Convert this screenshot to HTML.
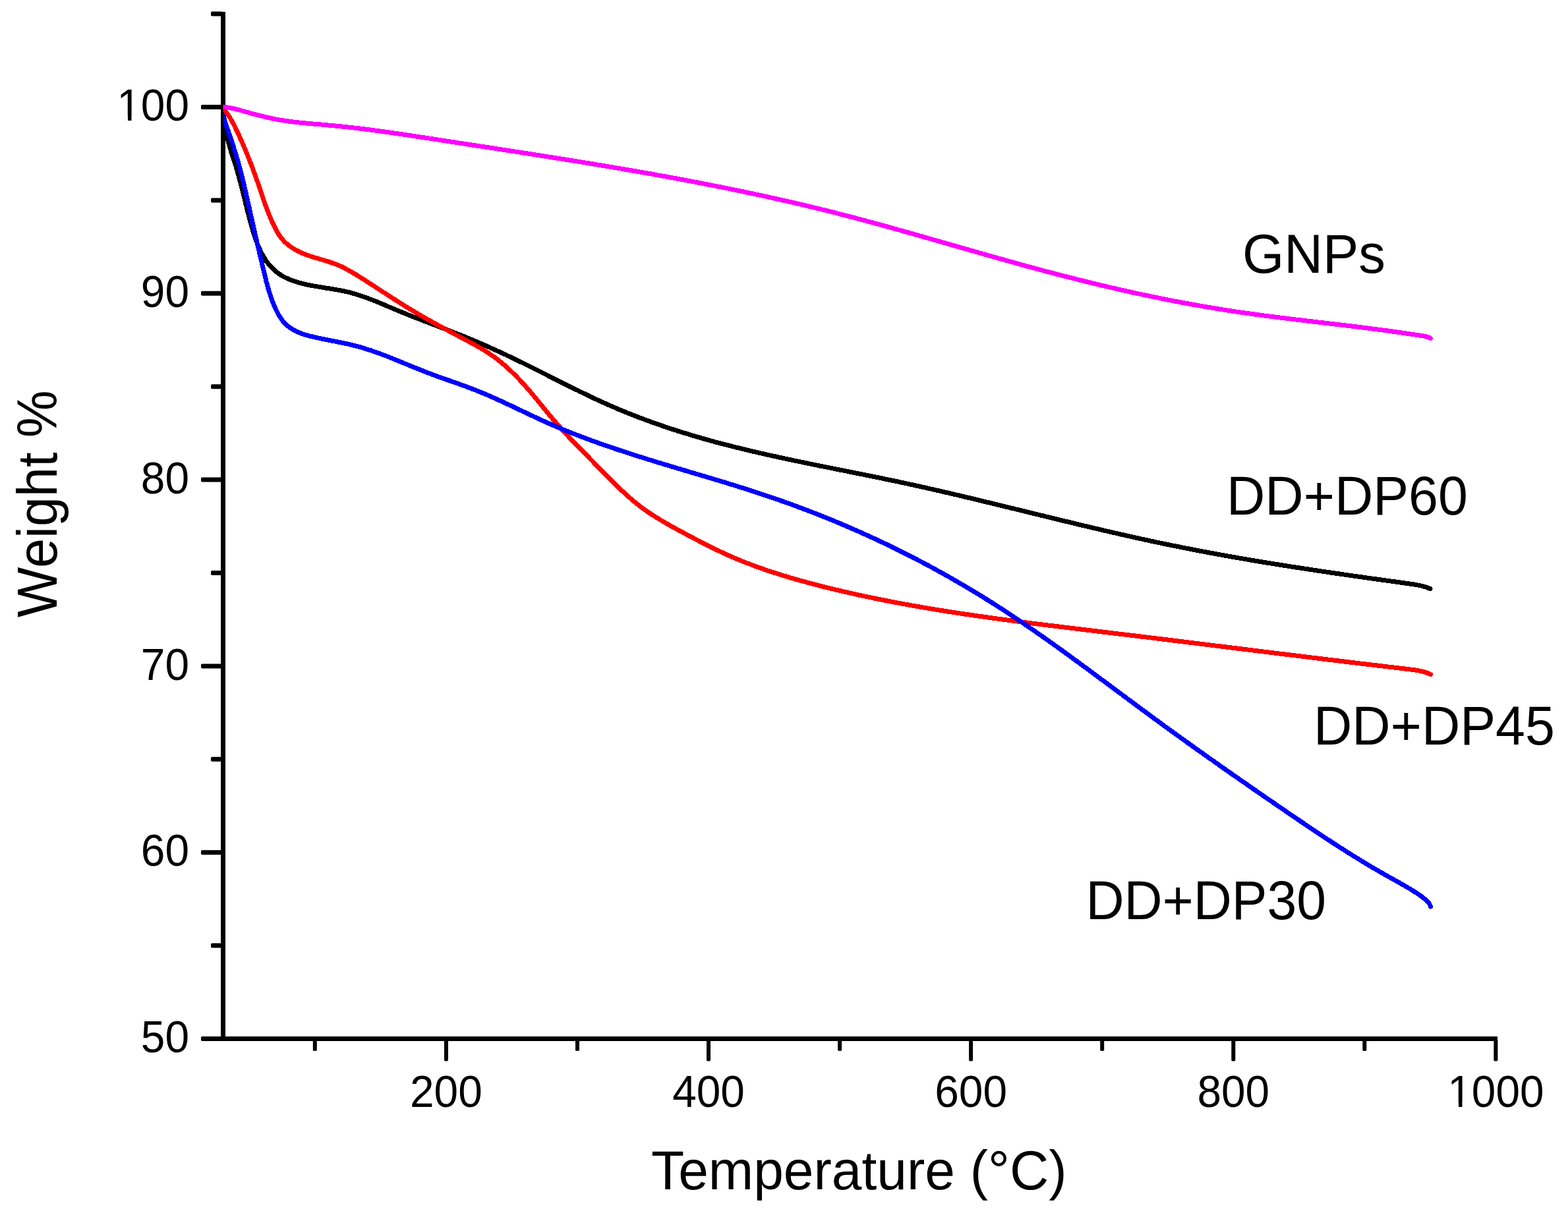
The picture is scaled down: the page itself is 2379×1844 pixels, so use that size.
<!DOCTYPE html>
<html><head><meta charset="utf-8"><title>TGA Weight % vs Temperature</title>
<style>
html,body{margin:0;padding:0;background:#fff;}
body{width:2379px;height:1844px;overflow:hidden;}
svg{display:block;font-family:"Liberation Sans",Arial,sans-serif;}
path{fill:none;stroke-width:7px;stroke-linecap:round;stroke-linejoin:round;shape-rendering:crispEdges;}
</style></head>
<body>
<svg width="2379" height="1844" viewBox="0 0 2379 1844">
<g fill="#000">
<rect x="335" y="18" width="7" height="1562"/>
<rect x="335" y="1573" width="1937" height="7"/>
<rect x="305" y="1573.0" width="33" height="7" rx="1.8"/>
<rect x="305" y="1290.2" width="33" height="7" rx="1.8"/>
<rect x="305" y="1007.4" width="33" height="7" rx="1.8"/>
<rect x="305" y="724.6" width="33" height="7" rx="1.8"/>
<rect x="305" y="441.8" width="33" height="7" rx="1.8"/>
<rect x="305" y="159.0" width="33" height="7" rx="1.8"/>
<rect x="320" y="1431.6" width="18" height="7" rx="1.8"/>
<rect x="320" y="1148.8" width="18" height="7" rx="1.8"/>
<rect x="320" y="866.0" width="18" height="7" rx="1.8"/>
<rect x="320" y="583.2" width="18" height="7" rx="1.8"/>
<rect x="320" y="300.4" width="18" height="7" rx="1.8"/>
<rect x="320" y="17.6" width="18" height="7" rx="1.8"/>
<rect x="673.9" y="1577" width="6" height="33.5" rx="1.8"/>
<rect x="1072.0" y="1577" width="6" height="33.5" rx="1.8"/>
<rect x="1470.1" y="1577" width="6" height="33.5" rx="1.8"/>
<rect x="1868.3" y="1577" width="6" height="33.5" rx="1.8"/>
<rect x="2266.4" y="1577" width="6" height="33.5" rx="1.8"/>
<rect x="474.8" y="1577" width="6" height="18" rx="1.8"/>
<rect x="873.0" y="1577" width="6" height="18" rx="1.8"/>
<rect x="1271.1" y="1577" width="6" height="18" rx="1.8"/>
<rect x="1669.2" y="1577" width="6" height="18" rx="1.8"/>
<rect x="2067.3" y="1577" width="6" height="18" rx="1.8"/>
</g>
<g fill="#000"><text transform="translate(287.00,1597.10) scale(1.0000,1.0446)" font-size="65.80" text-anchor="end">50</text><text transform="translate(287.00,1314.30) scale(1.0000,1.0446)" font-size="65.80" text-anchor="end">60</text><text transform="translate(287.00,1031.50) scale(1.0000,1.0446)" font-size="65.80" text-anchor="end">70</text><text transform="translate(287.00,748.70) scale(1.0000,1.0446)" font-size="65.80" text-anchor="end">80</text><text transform="translate(287.00,465.90) scale(1.0000,1.0446)" font-size="65.80" text-anchor="end">90</text><text transform="translate(287.00,183.10) scale(1.0000,1.0446)" font-size="65.80" text-anchor="end">100</text><text transform="translate(676.90,1680.00) scale(1.0000,1.0446)" font-size="65.80" text-anchor="middle">200</text><text transform="translate(1075.02,1680.00) scale(1.0000,1.0446)" font-size="65.80" text-anchor="middle">400</text><text transform="translate(1473.14,1680.00) scale(1.0000,1.0446)" font-size="65.80" text-anchor="middle">600</text><text transform="translate(1871.26,1680.00) scale(1.0000,1.0446)" font-size="65.80" text-anchor="middle">800</text><text transform="translate(2269.38,1680.00) scale(1.0000,1.0446)" font-size="65.80" text-anchor="middle">1000</text></g>
<g fill="#fff"><rect x="180" y="176.8" width="14" height="7"/><rect x="199.5" y="176.8" width="12.5" height="7"/><rect x="2199" y="1673.8" width="14" height="7"/><rect x="2218.5" y="1673.8" width="12.5" height="7"/></g>
<defs><clipPath id="pc"><rect x="338.5" y="0" width="2040" height="1844"/></clipPath></defs><g clip-path="url(#pc)">
<path d="M338.5,163.0 L338.7,165.0 L338.8,167.0 L339.0,169.0 L339.2,171.0 L339.4,173.0 L339.6,175.0 L339.8,177.0 L340.0,179.0 L340.2,181.0 L340.5,183.0 L340.7,184.9 L341.0,186.9 L341.3,188.9 L341.6,190.9 L341.9,192.8 L342.2,194.8 L342.5,196.8 L342.9,198.7 L343.2,200.7 L343.6,202.6 L344.0,204.6 L344.4,206.5 L344.8,208.5 L345.3,210.4 L345.7,212.3 L346.2,214.3 L346.7,216.2 L347.2,218.1 L347.8,220.1 L348.3,222.0 L348.9,223.9 L349.4,225.8 L350.0,227.8 L350.6,229.7 L351.2,231.6 L351.8,233.5 L352.4,235.4 L353.0,237.3 L353.6,239.2 L354.2,241.1 L354.8,243.1 L355.5,245.0 L356.1,246.9 L356.7,248.8 L357.3,250.7 L357.9,252.6 L358.5,254.5 L359.0,256.4 L359.6,258.4 L360.2,260.3 L360.7,262.2 L361.3,264.1 L361.8,266.0 L362.4,268.0 L362.9,269.9 L363.4,271.8 L363.9,273.7 L364.4,275.7 L364.9,277.6 L365.4,279.5 L365.9,281.4 L366.4,283.4 L366.9,285.3 L367.4,287.2 L367.9,289.2 L368.4,291.1 L368.8,293.0 L369.3,295.0 L369.8,296.9 L370.3,298.8 L370.7,300.8 L371.2,302.7 L371.7,304.6 L372.2,306.6 L372.6,308.5 L373.1,310.4 L373.6,312.4 L374.1,314.3 L374.5,316.2 L375.0,318.2 L375.5,320.1 L376.0,322.0 L376.5,324.0 L377.0,325.9 L377.5,327.8 L378.0,329.8 L378.5,331.7 L379.0,333.6 L379.5,335.6 L380.1,337.5 L380.6,339.4 L381.2,341.4 L381.7,343.3 L382.3,345.2 L382.8,347.2 L383.4,349.1 L384.0,351.0 L384.6,352.9 L385.2,354.9 L385.8,356.8 L386.4,358.7 L387.1,360.6 L387.7,362.5 L388.4,364.4 L389.1,366.3 L389.8,368.2 L390.5,370.1 L391.3,372.0 L392.0,373.8 L392.8,375.7 L393.6,377.5 L394.5,379.3 L395.3,381.1 L396.2,382.9 L397.1,384.7 L398.1,386.4 L399.0,388.2 L400.0,389.9 L401.1,391.6 L402.1,393.3 L403.2,394.9 L404.4,396.6 L405.5,398.2 L406.7,399.8 L408.0,401.3 L409.3,402.8 L410.6,404.3 L411.9,405.8 L413.3,407.2 L414.7,408.6 L416.2,410.0 L417.7,411.3 L419.2,412.5 L420.8,413.8 L422.3,414.9 L424.0,416.0 L425.6,417.1 L427.3,418.2 L429.0,419.2 L430.7,420.1 L432.5,421.0 L434.3,421.9 L436.1,422.7 L437.9,423.5 L439.8,424.3 L441.6,425.0 L443.5,425.7 L445.4,426.4 L447.3,427.0 L449.2,427.6 L451.1,428.2 L453.0,428.8 L455.0,429.3 L456.9,429.9 L458.9,430.4 L460.8,430.8 L462.8,431.3 L464.7,431.7 L466.7,432.2 L468.6,432.6 L470.6,433.0 L472.6,433.4 L474.6,433.7 L476.5,434.1 L478.5,434.5 L480.5,434.8 L482.5,435.1 L484.4,435.5 L486.4,435.8 L488.4,436.1 L490.4,436.4 L492.3,436.7 L494.3,437.1 L496.3,437.4 L498.3,437.7 L500.3,438.0 L502.2,438.3 L504.2,438.6 L506.2,439.0 L508.2,439.3 L510.1,439.6 L512.1,440.0 L514.1,440.3 L516.0,440.7 L518.0,441.1 L519.9,441.5 L521.9,441.9 L523.8,442.3 L525.8,442.7 L527.7,443.2 L529.7,443.7 L531.6,444.1 L533.5,444.7 L535.4,445.2 L537.3,445.7 L539.3,446.3 L541.2,446.9 L543.1,447.4 L545.0,448.1 L546.9,448.7 L548.8,449.3 L550.7,450.0 L552.5,450.6 L554.4,451.3 L556.3,452.0 L558.2,452.7 L560.1,453.4 L561.9,454.1 L563.8,454.8 L565.7,455.6 L567.5,456.3 L569.4,457.0 L571.3,457.8 L573.1,458.6 L575.0,459.3 L576.8,460.1 L578.7,460.9 L580.6,461.6 L582.4,462.4 L584.3,463.2 L586.1,464.0 L588.0,464.8 L589.8,465.6 L591.7,466.4 L593.5,467.1 L595.4,467.9 L597.2,468.7 L599.1,469.5 L600.9,470.3 L602.8,471.1 L604.6,471.8 L606.5,472.6 L608.4,473.4 L610.2,474.1 L612.1,474.9 L613.9,475.6 L615.8,476.4 L617.7,477.1 L619.5,477.9 L621.4,478.6 L623.2,479.3 L625.1,480.1 L627.0,480.8 L628.8,481.5 L630.7,482.3 L632.5,483.0 L634.4,483.7 L636.3,484.4 L638.1,485.2 L640.0,485.9 L641.9,486.6 L643.7,487.3 L645.6,488.0 L647.5,488.7 L649.3,489.4 L651.2,490.2 L653.1,490.9 L654.9,491.6 L656.8,492.3 L658.6,493.0 L660.5,493.7 L662.4,494.4 L664.2,495.1 L666.1,495.8 L668.0,496.5 L669.8,497.3 L671.7,498.0 L673.5,498.7 L675.4,499.4 L677.3,500.1 L679.1,500.8 L681.0,501.6 L682.9,502.3 L684.7,503.0 L686.6,503.7 L688.4,504.5 L690.3,505.2 L692.1,505.9 L694.0,506.7 L695.8,507.4 L697.7,508.1 L699.6,508.9 L701.4,509.6 L703.3,510.4 L705.1,511.1 L707.0,511.9 L708.8,512.6 L710.6,513.4 L712.5,514.2 L714.3,514.9 L716.2,515.7 L718.0,516.5 L719.9,517.3 L721.7,518.0 L723.5,518.8 L725.4,519.6 L727.2,520.4 L729.1,521.2 L730.9,522.0 L732.7,522.8 L734.6,523.6 L736.4,524.4 L738.2,525.2 L740.1,526.0 L741.9,526.8 L743.7,527.6 L745.5,528.5 L747.4,529.3 L749.2,530.1 L751.0,530.9 L752.8,531.8 L754.7,532.6 L756.5,533.4 L758.3,534.3 L760.1,535.1 L761.9,535.9 L763.7,536.8 L765.6,537.6 L767.4,538.5 L769.2,539.3 L771.0,540.2 L772.8,541.1 L774.6,541.9 L776.4,542.8 L778.2,543.6 L780.0,544.5 L781.8,545.4 L783.6,546.2 L785.4,547.1 L787.2,548.0 L789.0,548.9 L790.8,549.7 L792.6,550.6 L794.4,551.5 L796.2,552.4 L798.0,553.3 L799.8,554.2 L801.6,555.0 L803.4,555.9 L805.2,556.8 L806.9,557.7 L808.7,558.6 L810.5,559.5 L812.3,560.4 L814.1,561.3 L815.9,562.2 L817.7,563.1 L819.4,564.0 L821.2,564.9 L823.0,565.8 L824.8,566.7 L826.6,567.6 L828.4,568.5 L830.2,569.4 L831.9,570.3 L833.7,571.2 L835.5,572.1 L837.3,573.0 L839.1,573.9 L840.8,574.8 L842.6,575.7 L844.4,576.6 L846.2,577.5 L848.0,578.4 L849.8,579.3 L851.5,580.2 L853.3,581.1 L855.1,582.0 L856.9,582.9 L858.7,583.7 L860.5,584.6 L862.3,585.5 L864.0,586.4 L865.8,587.3 L867.6,588.2 L869.4,589.1 L871.2,590.0 L873.0,590.9 L874.8,591.7 L876.6,592.6 L878.4,593.5 L880.1,594.4 L881.9,595.2 L883.7,596.1 L885.5,597.0 L887.3,597.8 L889.1,598.7 L890.9,599.6 L892.7,600.4 L894.5,601.3 L896.3,602.2 L898.1,603.0 L899.9,603.9 L901.7,604.7 L903.5,605.6 L905.4,606.4 L907.2,607.2 L909.0,608.1 L910.8,608.9 L912.6,609.7 L914.4,610.6 L916.2,611.4 L918.1,612.2 L919.9,613.0 L921.7,613.8 L923.5,614.6 L925.3,615.4 L927.2,616.2 L929.0,617.0 L930.8,617.8 L932.7,618.6 L934.5,619.4 L936.3,620.2 L938.2,621.0 L940.0,621.8 L941.9,622.5 L943.7,623.3 L945.6,624.1 L947.4,624.8 L949.3,625.6 L951.1,626.3 L953.0,627.1 L954.8,627.8 L956.7,628.5 L958.5,629.3 L960.4,630.0 L962.2,630.7 L964.1,631.5 L966.0,632.2 L967.8,632.9 L969.7,633.6 L971.6,634.3 L973.5,635.0 L975.3,635.7 L977.2,636.4 L979.1,637.1 L981.0,637.8 L982.8,638.5 L984.7,639.2 L986.6,639.9 L988.5,640.6 L990.4,641.2 L992.2,641.9 L994.1,642.6 L996.0,643.3 L997.9,643.9 L999.8,644.6 L1001.7,645.2 L1003.6,645.9 L1005.5,646.5 L1007.4,647.2 L1009.3,647.8 L1011.2,648.5 L1013.1,649.1 L1015.0,649.7 L1016.9,650.4 L1018.8,651.0 L1020.7,651.6 L1022.6,652.2 L1024.5,652.8 L1026.4,653.4 L1028.3,654.1 L1030.2,654.7 L1032.1,655.3 L1034.0,655.9 L1035.9,656.5 L1037.9,657.1 L1039.8,657.6 L1041.7,658.2 L1043.6,658.8 L1045.5,659.4 L1047.4,660.0 L1049.4,660.6 L1051.3,661.1 L1053.2,661.7 L1055.1,662.3 L1057.0,662.8 L1059.0,663.4 L1060.9,663.9 L1062.8,664.5 L1064.7,665.1 L1066.7,665.6 L1068.6,666.2 L1070.5,666.7 L1072.4,667.2 L1074.4,667.8 L1076.3,668.3 L1078.2,668.8 L1080.1,669.4 L1082.1,669.9 L1084.0,670.4 L1085.9,671.0 L1087.9,671.5 L1089.8,672.0 L1091.7,672.5 L1093.7,673.0 L1095.6,673.5 L1097.5,674.0 L1099.5,674.5 L1101.4,675.0 L1103.3,675.5 L1105.3,676.0 L1107.2,676.5 L1109.2,677.0 L1111.1,677.5 L1113.0,678.0 L1115.0,678.5 L1116.9,679.0 L1118.9,679.5 L1120.8,679.9 L1122.7,680.4 L1124.7,680.9 L1126.6,681.4 L1128.6,681.8 L1130.5,682.3 L1132.4,682.8 L1134.4,683.2 L1136.3,683.7 L1138.3,684.2 L1140.2,684.6 L1142.2,685.1 L1144.1,685.5 L1146.1,686.0 L1148.0,686.4 L1150.0,686.9 L1151.9,687.3 L1153.9,687.8 L1155.8,688.2 L1157.7,688.7 L1159.7,689.1 L1161.6,689.6 L1163.6,690.0 L1165.5,690.4 L1167.5,690.9 L1169.4,691.3 L1171.4,691.7 L1173.3,692.2 L1175.3,692.6 L1177.3,693.0 L1179.2,693.5 L1181.2,693.9 L1183.1,694.3 L1185.1,694.7 L1187.0,695.1 L1189.0,695.6 L1190.9,696.0 L1192.9,696.4 L1194.8,696.8 L1196.8,697.2 L1198.7,697.7 L1200.7,698.1 L1202.7,698.5 L1204.6,698.9 L1206.6,699.3 L1208.5,699.7 L1210.5,700.1 L1212.4,700.5 L1214.4,700.9 L1216.3,701.3 L1218.3,701.8 L1220.3,702.2 L1222.2,702.6 L1224.2,703.0 L1226.1,703.4 L1228.1,703.8 L1230.0,704.2 L1232.0,704.6 L1234.0,705.0 L1235.9,705.4 L1237.9,705.8 L1239.8,706.2 L1241.8,706.6 L1243.8,707.0 L1245.7,707.4 L1247.7,707.8 L1249.6,708.1 L1251.6,708.5 L1253.6,708.9 L1255.5,709.3 L1257.5,709.7 L1259.4,710.1 L1261.4,710.5 L1263.4,710.9 L1265.3,711.3 L1267.3,711.7 L1269.2,712.1 L1271.2,712.5 L1273.2,712.9 L1275.1,713.3 L1277.1,713.7 L1279.0,714.0 L1281.0,714.4 L1283.0,714.8 L1284.9,715.2 L1286.9,715.6 L1288.8,716.0 L1290.8,716.4 L1292.8,716.8 L1294.7,717.2 L1296.7,717.6 L1298.6,718.0 L1300.6,718.4 L1302.6,718.8 L1304.5,719.2 L1306.5,719.6 L1308.4,719.9 L1310.4,720.3 L1312.3,720.7 L1314.3,721.1 L1316.3,721.5 L1318.2,721.9 L1320.2,722.3 L1322.1,722.7 L1324.1,723.1 L1326.1,723.5 L1328.0,723.9 L1330.0,724.3 L1331.9,724.7 L1333.9,725.1 L1335.9,725.5 L1337.8,725.9 L1339.8,726.3 L1341.7,726.7 L1343.7,727.2 L1345.6,727.6 L1347.6,728.0 L1349.6,728.4 L1351.5,728.8 L1353.5,729.2 L1355.4,729.6 L1357.4,730.0 L1359.3,730.4 L1361.3,730.8 L1363.2,731.3 L1365.2,731.7 L1367.2,732.1 L1369.1,732.5 L1371.1,732.9 L1373.0,733.4 L1375.0,733.8 L1376.9,734.2 L1378.9,734.6 L1380.8,735.1 L1382.8,735.5 L1384.7,735.9 L1386.7,736.3 L1388.6,736.8 L1390.6,737.2 L1392.5,737.6 L1394.5,738.1 L1396.4,738.5 L1398.4,738.9 L1400.3,739.4 L1402.3,739.8 L1404.2,740.3 L1406.2,740.7 L1408.1,741.1 L1410.1,741.6 L1412.0,742.0 L1414.0,742.5 L1415.9,742.9 L1417.9,743.3 L1419.8,743.8 L1421.8,744.2 L1423.7,744.7 L1425.7,745.1 L1427.6,745.6 L1429.6,746.0 L1431.5,746.5 L1433.5,746.9 L1435.4,747.4 L1437.4,747.8 L1439.3,748.3 L1441.3,748.7 L1443.2,749.2 L1445.2,749.7 L1447.1,750.1 L1449.1,750.6 L1451.0,751.0 L1452.9,751.5 L1454.9,751.9 L1456.8,752.4 L1458.8,752.9 L1460.7,753.3 L1462.7,753.8 L1464.6,754.2 L1466.6,754.7 L1468.5,755.2 L1470.5,755.6 L1472.4,756.1 L1474.3,756.6 L1476.3,757.0 L1478.2,757.5 L1480.2,758.0 L1482.1,758.4 L1484.1,758.9 L1486.0,759.4 L1488.0,759.8 L1489.9,760.3 L1491.8,760.8 L1493.8,761.2 L1495.7,761.7 L1497.7,762.2 L1499.6,762.6 L1501.6,763.1 L1503.5,763.6 L1505.4,764.1 L1507.4,764.5 L1509.3,765.0 L1511.3,765.5 L1513.2,765.9 L1515.2,766.4 L1517.1,766.9 L1519.0,767.4 L1521.0,767.8 L1522.9,768.3 L1524.9,768.8 L1526.8,769.3 L1528.8,769.7 L1530.7,770.2 L1532.6,770.7 L1534.6,771.2 L1536.5,771.6 L1538.5,772.1 L1540.4,772.6 L1542.4,773.1 L1544.3,773.5 L1546.2,774.0 L1548.2,774.5 L1550.1,775.0 L1552.1,775.4 L1554.0,775.9 L1555.9,776.4 L1557.9,776.9 L1559.8,777.3 L1561.8,777.8 L1563.7,778.3 L1565.7,778.8 L1567.6,779.2 L1569.5,779.7 L1571.5,780.2 L1573.4,780.7 L1575.4,781.1 L1577.3,781.6 L1579.3,782.1 L1581.2,782.6 L1583.1,783.0 L1585.1,783.5 L1587.0,784.0 L1589.0,784.5 L1590.9,784.9 L1592.9,785.4 L1594.8,785.9 L1596.7,786.4 L1598.7,786.8 L1600.6,787.3 L1602.6,787.8 L1604.5,788.2 L1606.5,788.7 L1608.4,789.2 L1610.3,789.7 L1612.3,790.1 L1614.2,790.6 L1616.2,791.1 L1618.1,791.5 L1620.1,792.0 L1622.0,792.5 L1623.9,792.9 L1625.9,793.4 L1627.8,793.9 L1629.8,794.4 L1631.7,794.8 L1633.7,795.3 L1635.6,795.8 L1637.5,796.2 L1639.5,796.7 L1641.4,797.2 L1643.4,797.6 L1645.3,798.1 L1647.3,798.5 L1649.2,799.0 L1651.2,799.5 L1653.1,799.9 L1655.0,800.4 L1657.0,800.9 L1658.9,801.3 L1660.9,801.8 L1662.8,802.2 L1664.8,802.7 L1666.7,803.1 L1668.7,803.6 L1670.6,804.1 L1672.6,804.5 L1674.5,805.0 L1676.5,805.4 L1678.4,805.9 L1680.3,806.3 L1682.3,806.8 L1684.2,807.2 L1686.2,807.7 L1688.1,808.1 L1690.1,808.6 L1692.0,809.0 L1694.0,809.5 L1695.9,809.9 L1697.9,810.4 L1699.8,810.8 L1701.8,811.3 L1703.7,811.7 L1705.7,812.1 L1707.6,812.6 L1709.6,813.0 L1711.5,813.5 L1713.5,813.9 L1715.4,814.3 L1717.4,814.8 L1719.3,815.2 L1721.3,815.6 L1723.2,816.1 L1725.2,816.5 L1727.1,816.9 L1729.1,817.4 L1731.0,817.8 L1733.0,818.2 L1734.9,818.6 L1736.9,819.1 L1738.8,819.5 L1740.8,819.9 L1742.7,820.3 L1744.7,820.8 L1746.7,821.2 L1748.6,821.6 L1750.6,822.0 L1752.5,822.4 L1754.5,822.9 L1756.4,823.3 L1758.4,823.7 L1760.3,824.1 L1762.3,824.5 L1764.2,824.9 L1766.2,825.3 L1768.2,825.7 L1770.1,826.1 L1772.1,826.5 L1774.0,826.9 L1776.0,827.4 L1777.9,827.8 L1779.9,828.2 L1781.9,828.5 L1783.8,828.9 L1785.8,829.3 L1787.7,829.7 L1789.7,830.1 L1791.7,830.5 L1793.6,830.9 L1795.6,831.3 L1797.5,831.7 L1799.5,832.1 L1801.5,832.5 L1803.4,832.8 L1805.4,833.2 L1807.3,833.6 L1809.3,834.0 L1811.3,834.4 L1813.2,834.8 L1815.2,835.1 L1817.2,835.5 L1819.1,835.9 L1821.1,836.3 L1823.0,836.6 L1825.0,837.0 L1827.0,837.4 L1828.9,837.7 L1830.9,838.1 L1832.9,838.5 L1834.8,838.8 L1836.8,839.2 L1838.8,839.6 L1840.7,839.9 L1842.7,840.3 L1844.7,840.7 L1846.6,841.0 L1848.6,841.4 L1850.6,841.7 L1852.5,842.1 L1854.5,842.4 L1856.5,842.8 L1858.4,843.2 L1860.4,843.5 L1862.4,843.9 L1864.3,844.2 L1866.3,844.6 L1868.3,844.9 L1870.2,845.3 L1872.2,845.6 L1874.2,845.9 L1876.2,846.3 L1878.1,846.6 L1880.1,847.0 L1882.1,847.3 L1884.0,847.7 L1886.0,848.0 L1888.0,848.3 L1889.9,848.7 L1891.9,849.0 L1893.9,849.3 L1895.9,849.7 L1897.8,850.0 L1899.8,850.4 L1901.8,850.7 L1903.7,851.0 L1905.7,851.3 L1907.7,851.7 L1909.7,852.0 L1911.6,852.3 L1913.6,852.7 L1915.6,853.0 L1917.5,853.3 L1919.5,853.6 L1921.5,854.0 L1923.5,854.3 L1925.4,854.6 L1927.4,854.9 L1929.4,855.3 L1931.4,855.6 L1933.3,855.9 L1935.3,856.2 L1937.3,856.5 L1939.3,856.8 L1941.2,857.2 L1943.2,857.5 L1945.2,857.8 L1947.2,858.1 L1949.1,858.4 L1951.1,858.7 L1953.1,859.0 L1955.1,859.4 L1957.0,859.7 L1959.0,860.0 L1961.0,860.3 L1963.0,860.6 L1964.9,860.9 L1966.9,861.2 L1968.9,861.5 L1970.9,861.8 L1972.9,862.1 L1974.8,862.4 L1976.8,862.7 L1978.8,863.0 L1980.8,863.3 L1982.7,863.6 L1984.7,863.9 L1986.7,864.2 L1988.7,864.5 L1990.7,864.8 L1992.6,865.1 L1994.6,865.4 L1996.6,865.7 L1998.6,866.0 L2000.5,866.3 L2002.5,866.6 L2004.5,866.9 L2006.5,867.2 L2008.5,867.5 L2010.4,867.8 L2012.4,868.1 L2014.4,868.4 L2016.4,868.7 L2018.4,869.0 L2020.3,869.3 L2022.3,869.6 L2024.3,869.8 L2026.3,870.1 L2028.3,870.4 L2030.2,870.7 L2032.2,871.0 L2034.2,871.3 L2036.2,871.6 L2038.2,871.9 L2040.1,872.1 L2042.1,872.4 L2044.1,872.7 L2046.1,873.0 L2048.1,873.3 L2050.0,873.6 L2052.0,873.9 L2054.0,874.1 L2056.0,874.4 L2058.0,874.7 L2059.9,875.0 L2061.9,875.3 L2063.9,875.6 L2065.9,875.8 L2067.9,876.1 L2069.8,876.4 L2071.8,876.7 L2073.8,877.0 L2075.8,877.2 L2077.8,877.5 L2079.7,877.8 L2081.7,878.1 L2083.7,878.4 L2085.7,878.6 L2087.7,878.9 L2089.7,879.2 L2091.6,879.5 L2093.6,879.7 L2095.6,880.0 L2097.6,880.3 L2099.6,880.6 L2101.5,880.8 L2103.5,881.1 L2105.5,881.4 L2107.5,881.7 L2109.5,881.9 L2111.4,882.2 L2113.4,882.5 L2115.4,882.8 L2117.4,883.0 L2119.4,883.3 L2121.4,883.6 L2123.3,883.9 L2125.3,884.1 L2127.3,884.4 L2129.3,884.7 L2131.3,885.0 L2133.2,885.2 L2135.2,885.5 L2137.2,885.8 L2139.2,886.1 L2141.2,886.3 L2143.1,886.6 L2145.1,886.9 L2147.1,887.3 L2149.0,887.6 L2151.0,888.0 L2152.9,888.4 L2154.9,888.8 L2156.8,889.2 L2158.7,889.7 L2160.6,890.3 L2162.5,890.8 L2164.4,891.4 L2166.3,892.1 L2168.2,892.8 L2170.0,893.6" stroke="#000"/>
<path d="M338.5,165.0 L339.9,166.4 L341.2,167.9 L342.4,169.4 L343.7,171.0 L344.8,172.6 L346.0,174.2 L347.1,175.8 L348.1,177.5 L349.2,179.1 L350.2,180.8 L351.2,182.6 L352.2,184.3 L353.1,186.0 L354.1,187.8 L355.0,189.6 L355.9,191.4 L356.8,193.2 L357.6,195.0 L358.5,196.8 L359.4,198.6 L360.2,200.4 L361.1,202.2 L361.9,204.0 L362.7,205.8 L363.6,207.7 L364.4,209.5 L365.2,211.3 L366.0,213.1 L366.8,215.0 L367.6,216.8 L368.4,218.6 L369.2,220.5 L370.0,222.3 L370.8,224.2 L371.6,226.0 L372.3,227.8 L373.1,229.7 L373.9,231.5 L374.6,233.4 L375.4,235.2 L376.1,237.1 L376.9,238.9 L377.6,240.8 L378.4,242.6 L379.1,244.5 L379.8,246.4 L380.5,248.2 L381.2,250.1 L382.0,251.9 L382.7,253.8 L383.4,255.7 L384.1,257.5 L384.8,259.4 L385.4,261.3 L386.1,263.2 L386.8,265.0 L387.5,266.9 L388.2,268.8 L388.8,270.7 L389.5,272.6 L390.1,274.5 L390.8,276.3 L391.4,278.2 L392.1,280.1 L392.7,282.0 L393.4,283.9 L394.0,285.8 L394.6,287.7 L395.3,289.6 L395.9,291.5 L396.6,293.4 L397.2,295.3 L397.8,297.2 L398.5,299.1 L399.1,301.0 L399.8,302.9 L400.4,304.8 L401.1,306.7 L401.8,308.5 L402.4,310.4 L403.1,312.3 L403.8,314.2 L404.5,316.1 L405.2,318.0 L405.9,319.8 L406.6,321.7 L407.3,323.6 L408.1,325.4 L408.8,327.3 L409.6,329.1 L410.4,331.0 L411.2,332.8 L412.0,334.7 L412.8,336.5 L413.7,338.3 L414.5,340.1 L415.4,342.0 L416.3,343.8 L417.2,345.6 L418.1,347.4 L419.1,349.2 L420.0,350.9 L421.0,352.7 L422.1,354.4 L423.1,356.1 L424.2,357.7 L425.4,359.4 L426.6,361.0 L427.8,362.5 L429.1,364.0 L430.4,365.5 L431.7,366.9 L433.1,368.2 L434.6,369.6 L436.1,370.8 L437.6,372.1 L439.2,373.3 L440.8,374.4 L442.4,375.5 L444.0,376.6 L445.7,377.6 L447.4,378.6 L449.2,379.6 L450.9,380.5 L452.7,381.5 L454.5,382.3 L456.4,383.2 L458.2,384.0 L460.0,384.8 L461.9,385.5 L463.8,386.3 L465.7,387.0 L467.6,387.7 L469.5,388.3 L471.4,389.0 L473.3,389.6 L475.2,390.2 L477.2,390.8 L479.1,391.4 L481.0,392.0 L483.0,392.5 L484.9,393.1 L486.8,393.7 L488.7,394.2 L490.7,394.8 L492.6,395.4 L494.5,395.9 L496.4,396.5 L498.3,397.1 L500.2,397.7 L502.1,398.4 L504.0,399.0 L505.9,399.7 L507.8,400.3 L509.6,401.0 L511.5,401.8 L513.3,402.5 L515.1,403.3 L516.9,404.1 L518.7,405.0 L520.5,405.8 L522.3,406.7 L524.1,407.6 L525.8,408.6 L527.6,409.5 L529.3,410.5 L531.1,411.4 L532.8,412.4 L534.5,413.4 L536.3,414.5 L538.0,415.5 L539.7,416.5 L541.4,417.6 L543.1,418.6 L544.8,419.7 L546.5,420.8 L548.2,421.8 L549.9,422.9 L551.6,424.0 L553.2,425.1 L554.9,426.1 L556.6,427.2 L558.3,428.3 L560.0,429.4 L561.7,430.5 L563.3,431.6 L565.0,432.6 L566.7,433.7 L568.4,434.8 L570.1,435.9 L571.7,437.0 L573.4,438.1 L575.1,439.2 L576.8,440.3 L578.4,441.4 L580.1,442.5 L581.8,443.6 L583.5,444.6 L585.1,445.7 L586.8,446.8 L588.5,447.9 L590.2,449.0 L591.9,450.1 L593.5,451.2 L595.2,452.3 L596.9,453.3 L598.6,454.4 L600.3,455.5 L601.9,456.6 L603.6,457.6 L605.3,458.7 L607.0,459.8 L608.7,460.8 L610.4,461.9 L612.1,463.0 L613.8,464.0 L615.5,465.1 L617.2,466.1 L618.9,467.1 L620.6,468.2 L622.3,469.2 L624.0,470.3 L625.7,471.3 L627.4,472.3 L629.1,473.3 L630.9,474.3 L632.6,475.4 L634.3,476.4 L636.0,477.4 L637.8,478.4 L639.5,479.4 L641.2,480.4 L643.0,481.4 L644.7,482.4 L646.4,483.4 L648.2,484.3 L649.9,485.3 L651.6,486.3 L653.4,487.3 L655.1,488.3 L656.9,489.2 L658.6,490.2 L660.4,491.2 L662.1,492.1 L663.9,493.1 L665.6,494.1 L667.4,495.0 L669.1,496.0 L670.9,496.9 L672.6,497.9 L674.4,498.8 L676.2,499.8 L677.9,500.7 L679.7,501.7 L681.5,502.6 L683.2,503.6 L685.0,504.5 L686.8,505.5 L688.5,506.4 L690.3,507.3 L692.1,508.3 L693.8,509.2 L695.6,510.2 L697.4,511.1 L699.1,512.0 L700.9,513.0 L702.7,513.9 L704.5,514.8 L706.2,515.8 L708.0,516.7 L709.8,517.6 L711.5,518.6 L713.3,519.5 L715.1,520.5 L716.8,521.4 L718.6,522.4 L720.3,523.4 L722.1,524.3 L723.8,525.3 L725.6,526.3 L727.3,527.3 L729.0,528.3 L730.7,529.3 L732.5,530.3 L734.2,531.4 L735.9,532.4 L737.5,533.5 L739.2,534.6 L740.9,535.6 L742.5,536.8 L744.2,537.9 L745.8,539.0 L747.5,540.1 L749.1,541.3 L750.7,542.5 L752.3,543.7 L753.9,544.9 L755.4,546.1 L757.0,547.3 L758.6,548.6 L760.1,549.8 L761.6,551.1 L763.2,552.4 L764.7,553.7 L766.2,555.0 L767.7,556.3 L769.2,557.6 L770.7,559.0 L772.1,560.3 L773.6,561.7 L775.0,563.1 L776.5,564.5 L777.9,565.9 L779.4,567.3 L780.8,568.7 L782.2,570.1 L783.6,571.5 L785.0,572.9 L786.4,574.4 L787.8,575.8 L789.2,577.3 L790.5,578.8 L791.9,580.2 L793.2,581.7 L794.6,583.2 L795.9,584.7 L797.3,586.2 L798.6,587.7 L799.9,589.2 L801.2,590.7 L802.6,592.2 L803.9,593.7 L805.2,595.2 L806.5,596.8 L807.7,598.3 L809.0,599.8 L810.3,601.4 L811.6,602.9 L812.9,604.4 L814.1,606.0 L815.4,607.5 L816.7,609.1 L817.9,610.6 L819.2,612.2 L820.5,613.7 L821.7,615.3 L823.0,616.8 L824.2,618.4 L825.5,619.9 L826.8,621.5 L828.0,623.0 L829.3,624.5 L830.6,626.1 L831.8,627.6 L833.1,629.2 L834.4,630.7 L835.6,632.2 L836.9,633.8 L838.2,635.3 L839.5,636.8 L840.8,638.4 L842.1,639.9 L843.4,641.4 L844.7,642.9 L846.0,644.4 L847.3,645.9 L848.6,647.4 L850.0,648.9 L851.3,650.4 L852.6,651.9 L854.0,653.3 L855.3,654.8 L856.7,656.3 L858.0,657.8 L859.4,659.2 L860.7,660.7 L862.1,662.1 L863.5,663.6 L864.9,665.1 L866.2,666.5 L867.6,667.9 L869.0,669.4 L870.4,670.8 L871.8,672.3 L873.2,673.7 L874.6,675.1 L876.0,676.6 L877.4,678.0 L878.8,679.4 L880.2,680.9 L881.6,682.3 L883.0,683.7 L884.4,685.2 L885.8,686.6 L887.2,688.0 L888.6,689.4 L890.0,690.9 L891.4,692.3 L892.8,693.7 L894.2,695.1 L895.6,696.6 L897.0,698.0 L898.4,699.4 L899.8,700.8 L901.2,702.3 L902.6,703.7 L904.0,705.1 L905.4,706.5 L906.8,708.0 L908.2,709.4 L909.6,710.8 L911.0,712.2 L912.4,713.7 L913.8,715.1 L915.2,716.5 L916.6,717.9 L918.0,719.4 L919.4,720.8 L920.8,722.2 L922.2,723.6 L923.6,725.0 L925.0,726.5 L926.4,727.9 L927.9,729.3 L929.3,730.7 L930.7,732.1 L932.1,733.5 L933.5,734.9 L935.0,736.3 L936.4,737.7 L937.8,739.1 L939.3,740.5 L940.7,741.9 L942.2,743.3 L943.6,744.7 L945.1,746.0 L946.5,747.4 L948.0,748.8 L949.5,750.1 L951.0,751.5 L952.5,752.8 L953.9,754.1 L955.4,755.4 L956.9,756.8 L958.5,758.1 L960.0,759.4 L961.5,760.7 L963.0,761.9 L964.6,763.2 L966.1,764.5 L967.7,765.7 L969.3,766.9 L970.8,768.2 L972.4,769.4 L974.0,770.6 L975.6,771.7 L977.2,772.9 L978.8,774.1 L980.5,775.2 L982.1,776.4 L983.8,777.5 L985.4,778.6 L987.1,779.7 L988.7,780.8 L990.4,781.9 L992.1,783.0 L993.8,784.1 L995.5,785.1 L997.2,786.2 L998.9,787.2 L1000.6,788.3 L1002.3,789.3 L1004.0,790.3 L1005.7,791.3 L1007.5,792.3 L1009.2,793.3 L1010.9,794.3 L1012.7,795.3 L1014.4,796.3 L1016.2,797.3 L1017.9,798.3 L1019.7,799.3 L1021.4,800.2 L1023.2,801.2 L1024.9,802.2 L1026.7,803.1 L1028.5,804.1 L1030.2,805.0 L1032.0,806.0 L1033.8,806.9 L1035.5,807.9 L1037.3,808.8 L1039.1,809.8 L1040.8,810.7 L1042.6,811.7 L1044.4,812.6 L1046.1,813.5 L1047.9,814.5 L1049.7,815.4 L1051.5,816.4 L1053.2,817.3 L1055.0,818.2 L1056.8,819.2 L1058.6,820.1 L1060.3,821.0 L1062.1,821.9 L1063.9,822.8 L1065.7,823.8 L1067.4,824.7 L1069.2,825.6 L1071.0,826.5 L1072.8,827.4 L1074.6,828.3 L1076.4,829.2 L1078.2,830.1 L1080.0,831.0 L1081.8,831.8 L1083.5,832.7 L1085.3,833.6 L1087.1,834.5 L1088.9,835.3 L1090.7,836.2 L1092.6,837.0 L1094.4,837.9 L1096.2,838.7 L1098.0,839.6 L1099.8,840.4 L1101.6,841.2 L1103.4,842.1 L1105.2,842.9 L1107.1,843.7 L1108.9,844.5 L1110.7,845.3 L1112.6,846.1 L1114.4,846.9 L1116.2,847.6 L1118.1,848.4 L1119.9,849.2 L1121.8,849.9 L1123.6,850.7 L1125.4,851.5 L1127.3,852.2 L1129.2,852.9 L1131.0,853.7 L1132.9,854.4 L1134.7,855.1 L1136.6,855.8 L1138.5,856.5 L1140.3,857.3 L1142.2,858.0 L1144.1,858.7 L1145.9,859.3 L1147.8,860.0 L1149.7,860.7 L1151.6,861.4 L1153.4,862.1 L1155.3,862.7 L1157.2,863.4 L1159.1,864.0 L1161.0,864.7 L1162.9,865.3 L1164.8,866.0 L1166.7,866.6 L1168.6,867.2 L1170.5,867.9 L1172.4,868.5 L1174.3,869.1 L1176.2,869.7 L1178.1,870.3 L1180.0,870.9 L1181.9,871.5 L1183.8,872.1 L1185.7,872.7 L1187.6,873.3 L1189.5,873.9 L1191.4,874.5 L1193.3,875.1 L1195.3,875.6 L1197.2,876.2 L1199.1,876.8 L1201.0,877.3 L1202.9,877.9 L1204.9,878.5 L1206.8,879.0 L1208.7,879.6 L1210.6,880.1 L1212.6,880.6 L1214.5,881.2 L1216.4,881.7 L1218.3,882.3 L1220.3,882.8 L1222.2,883.3 L1224.1,883.8 L1226.1,884.4 L1228.0,884.9 L1229.9,885.4 L1231.9,885.9 L1233.8,886.4 L1235.7,886.9 L1237.7,887.4 L1239.6,887.9 L1241.5,888.4 L1243.5,888.9 L1245.4,889.4 L1247.4,889.9 L1249.3,890.4 L1251.2,890.9 L1253.2,891.4 L1255.1,891.9 L1257.1,892.3 L1259.0,892.8 L1260.9,893.3 L1262.9,893.8 L1264.8,894.2 L1266.8,894.7 L1268.7,895.2 L1270.7,895.6 L1272.6,896.1 L1274.5,896.6 L1276.5,897.0 L1278.4,897.5 L1280.4,897.9 L1282.3,898.4 L1284.3,898.8 L1286.2,899.3 L1288.2,899.7 L1290.1,900.2 L1292.1,900.6 L1294.0,901.0 L1296.0,901.5 L1297.9,901.9 L1299.9,902.3 L1301.8,902.8 L1303.8,903.2 L1305.7,903.6 L1307.7,904.0 L1309.6,904.5 L1311.6,904.9 L1313.5,905.3 L1315.5,905.7 L1317.4,906.1 L1319.4,906.5 L1321.4,906.9 L1323.3,907.3 L1325.3,907.7 L1327.2,908.1 L1329.2,908.5 L1331.1,908.9 L1333.1,909.3 L1335.1,909.7 L1337.0,910.1 L1339.0,910.5 L1340.9,910.9 L1342.9,911.3 L1344.9,911.7 L1346.8,912.1 L1348.8,912.5 L1350.7,912.8 L1352.7,913.2 L1354.7,913.6 L1356.6,914.0 L1358.6,914.3 L1360.5,914.7 L1362.5,915.1 L1364.5,915.4 L1366.4,915.8 L1368.4,916.2 L1370.4,916.5 L1372.3,916.9 L1374.3,917.3 L1376.3,917.6 L1378.2,918.0 L1380.2,918.3 L1382.2,918.7 L1384.1,919.0 L1386.1,919.4 L1388.1,919.7 L1390.0,920.1 L1392.0,920.4 L1394.0,920.8 L1395.9,921.1 L1397.9,921.4 L1399.9,921.8 L1401.8,922.1 L1403.8,922.5 L1405.8,922.8 L1407.7,923.1 L1409.7,923.5 L1411.7,923.8 L1413.7,924.1 L1415.6,924.4 L1417.6,924.8 L1419.6,925.1 L1421.5,925.4 L1423.5,925.7 L1425.5,926.1 L1427.5,926.4 L1429.4,926.7 L1431.4,927.0 L1433.4,927.3 L1435.4,927.6 L1437.3,927.9 L1439.3,928.3 L1441.3,928.6 L1443.3,928.9 L1445.2,929.2 L1447.2,929.5 L1449.2,929.8 L1451.2,930.1 L1453.1,930.4 L1455.1,930.7 L1457.1,931.0 L1459.1,931.3 L1461.0,931.6 L1463.0,931.9 L1465.0,932.2 L1467.0,932.5 L1469.0,932.8 L1470.9,933.1 L1472.9,933.4 L1474.9,933.6 L1476.9,933.9 L1478.8,934.2 L1480.8,934.5 L1482.8,934.8 L1484.8,935.1 L1486.8,935.4 L1488.7,935.6 L1490.7,935.9 L1492.7,936.2 L1494.7,936.5 L1496.7,936.8 L1498.6,937.0 L1500.6,937.3 L1502.6,937.6 L1504.6,937.9 L1506.6,938.1 L1508.6,938.4 L1510.5,938.7 L1512.5,938.9 L1514.5,939.2 L1516.5,939.5 L1518.5,939.8 L1520.4,940.0 L1522.4,940.3 L1524.4,940.6 L1526.4,940.8 L1528.4,941.1 L1530.4,941.3 L1532.3,941.6 L1534.3,941.9 L1536.3,942.1 L1538.3,942.4 L1540.3,942.7 L1542.3,942.9 L1544.2,943.2 L1546.2,943.4 L1548.2,943.7 L1550.2,943.9 L1552.2,944.2 L1554.2,944.5 L1556.1,944.7 L1558.1,945.0 L1560.1,945.2 L1562.1,945.5 L1564.1,945.7 L1566.1,946.0 L1568.1,946.2 L1570.0,946.5 L1572.0,946.7 L1574.0,947.0 L1576.0,947.2 L1578.0,947.5 L1580.0,947.7 L1582.0,948.0 L1583.9,948.2 L1585.9,948.5 L1587.9,948.7 L1589.9,949.0 L1591.9,949.2 L1593.9,949.5 L1595.9,949.7 L1597.8,949.9 L1599.8,950.2 L1601.8,950.4 L1603.8,950.7 L1605.8,950.9 L1607.8,951.2 L1609.8,951.4 L1611.7,951.6 L1613.7,951.9 L1615.7,952.1 L1617.7,952.4 L1619.7,952.6 L1621.7,952.9 L1623.7,953.1 L1625.6,953.3 L1627.6,953.6 L1629.6,953.8 L1631.6,954.1 L1633.6,954.3 L1635.6,954.5 L1637.6,954.8 L1639.6,955.0 L1641.5,955.3 L1643.5,955.5 L1645.5,955.7 L1647.5,956.0 L1649.5,956.2 L1651.5,956.4 L1653.5,956.7 L1655.4,956.9 L1657.4,957.2 L1659.4,957.4 L1661.4,957.6 L1663.4,957.9 L1665.4,958.1 L1667.4,958.4 L1669.3,958.6 L1671.3,958.8 L1673.3,959.1 L1675.3,959.3 L1677.3,959.6 L1679.3,959.8 L1681.3,960.0 L1683.2,960.3 L1685.2,960.5 L1687.2,960.8 L1689.2,961.0 L1691.2,961.2 L1693.2,961.5 L1695.2,961.7 L1697.1,962.0 L1699.1,962.2 L1701.1,962.4 L1703.1,962.7 L1705.1,962.9 L1707.1,963.2 L1709.0,963.4 L1711.0,963.6 L1713.0,963.9 L1715.0,964.1 L1717.0,964.4 L1719.0,964.6 L1721.0,964.8 L1722.9,965.1 L1724.9,965.3 L1726.9,965.6 L1728.9,965.8 L1730.9,966.1 L1732.9,966.3 L1734.8,966.5 L1736.8,966.8 L1738.8,967.0 L1740.8,967.3 L1742.8,967.5 L1744.8,967.8 L1746.7,968.0 L1748.7,968.2 L1750.7,968.5 L1752.7,968.7 L1754.7,969.0 L1756.7,969.2 L1758.7,969.5 L1760.6,969.7 L1762.6,969.9 L1764.6,970.2 L1766.6,970.4 L1768.6,970.7 L1770.6,970.9 L1772.5,971.2 L1774.5,971.4 L1776.5,971.6 L1778.5,971.9 L1780.5,972.1 L1782.5,972.4 L1784.4,972.6 L1786.4,972.9 L1788.4,973.1 L1790.4,973.4 L1792.4,973.6 L1794.3,973.8 L1796.3,974.1 L1798.3,974.3 L1800.3,974.6 L1802.3,974.8 L1804.3,975.1 L1806.2,975.3 L1808.2,975.6 L1810.2,975.8 L1812.2,976.0 L1814.2,976.3 L1816.2,976.5 L1818.1,976.8 L1820.1,977.0 L1822.1,977.3 L1824.1,977.5 L1826.1,977.8 L1828.1,978.0 L1830.0,978.2 L1832.0,978.5 L1834.0,978.7 L1836.0,979.0 L1838.0,979.2 L1840.0,979.5 L1841.9,979.7 L1843.9,980.0 L1845.9,980.2 L1847.9,980.5 L1849.9,980.7 L1851.8,980.9 L1853.8,981.2 L1855.8,981.4 L1857.8,981.7 L1859.8,981.9 L1861.8,982.2 L1863.7,982.4 L1865.7,982.7 L1867.7,982.9 L1869.7,983.2 L1871.7,983.4 L1873.7,983.6 L1875.6,983.9 L1877.6,984.1 L1879.6,984.4 L1881.6,984.6 L1883.6,984.9 L1885.6,985.1 L1887.5,985.4 L1889.5,985.6 L1891.5,985.8 L1893.5,986.1 L1895.5,986.3 L1897.4,986.6 L1899.4,986.8 L1901.4,987.1 L1903.4,987.3 L1905.4,987.6 L1907.4,987.8 L1909.3,988.1 L1911.3,988.3 L1913.3,988.5 L1915.3,988.8 L1917.3,989.0 L1919.3,989.3 L1921.2,989.5 L1923.2,989.8 L1925.2,990.0 L1927.2,990.3 L1929.2,990.5 L1931.2,990.7 L1933.1,991.0 L1935.1,991.2 L1937.1,991.5 L1939.1,991.7 L1941.1,992.0 L1943.1,992.2 L1945.0,992.5 L1947.0,992.7 L1949.0,992.9 L1951.0,993.2 L1953.0,993.4 L1955.0,993.7 L1956.9,993.9 L1958.9,994.2 L1960.9,994.4 L1962.9,994.7 L1964.9,994.9 L1966.9,995.1 L1968.8,995.4 L1970.8,995.6 L1972.8,995.9 L1974.8,996.1 L1976.8,996.4 L1978.8,996.6 L1980.7,996.8 L1982.7,997.1 L1984.7,997.3 L1986.7,997.6 L1988.7,997.8 L1990.7,998.1 L1992.6,998.3 L1994.6,998.5 L1996.6,998.8 L1998.6,999.0 L2000.6,999.3 L2002.6,999.5 L2004.6,999.8 L2006.5,1000.0 L2008.5,1000.2 L2010.5,1000.5 L2012.5,1000.7 L2014.5,1001.0 L2016.5,1001.2 L2018.4,1001.4 L2020.4,1001.7 L2022.4,1001.9 L2024.4,1002.2 L2026.4,1002.4 L2028.4,1002.7 L2030.4,1002.9 L2032.3,1003.1 L2034.3,1003.4 L2036.3,1003.6 L2038.3,1003.9 L2040.3,1004.1 L2042.3,1004.3 L2044.3,1004.6 L2046.2,1004.8 L2048.2,1005.1 L2050.2,1005.3 L2052.2,1005.5 L2054.2,1005.8 L2056.2,1006.0 L2058.2,1006.3 L2060.1,1006.5 L2062.1,1006.7 L2064.1,1007.0 L2066.1,1007.2 L2068.1,1007.5 L2070.1,1007.7 L2072.1,1007.9 L2074.0,1008.2 L2076.0,1008.4 L2078.0,1008.6 L2080.0,1008.9 L2082.0,1009.1 L2084.0,1009.4 L2086.0,1009.6 L2088.0,1009.8 L2089.9,1010.1 L2091.9,1010.3 L2093.9,1010.5 L2095.9,1010.8 L2097.9,1011.0 L2099.9,1011.3 L2101.9,1011.5 L2103.9,1011.7 L2105.8,1012.0 L2107.8,1012.2 L2109.8,1012.4 L2111.8,1012.7 L2113.8,1012.9 L2115.8,1013.1 L2117.8,1013.4 L2119.8,1013.6 L2121.8,1013.8 L2123.7,1014.1 L2125.7,1014.3 L2127.7,1014.6 L2129.7,1014.8 L2131.7,1015.0 L2133.7,1015.3 L2135.7,1015.5 L2137.7,1015.7 L2139.7,1016.0 L2141.6,1016.2 L2143.6,1016.5 L2145.6,1016.7 L2147.6,1017.0 L2149.5,1017.4 L2151.5,1017.7 L2153.5,1018.1 L2155.4,1018.5 L2157.3,1019.0 L2159.3,1019.4 L2161.2,1020.0 L2163.1,1020.6 L2164.9,1021.2 L2166.8,1021.9 L2168.7,1022.7 L2170.5,1023.5" stroke="#f00"/>
<path d="M338.5,175.5 L339.1,177.4 L339.7,179.3 L340.3,181.2 L341.0,183.1 L341.6,185.0 L342.2,186.9 L342.9,188.8 L343.5,190.7 L344.1,192.6 L344.8,194.5 L345.4,196.4 L346.1,198.2 L346.7,200.1 L347.3,202.0 L348.0,203.9 L348.6,205.8 L349.3,207.7 L349.9,209.6 L350.5,211.5 L351.2,213.4 L351.8,215.3 L352.4,217.2 L353.1,219.1 L353.7,221.0 L354.3,222.9 L354.9,224.8 L355.5,226.7 L356.1,228.6 L356.7,230.5 L357.3,232.4 L357.9,234.3 L358.5,236.2 L359.0,238.1 L359.6,240.1 L360.2,242.0 L360.7,243.9 L361.3,245.8 L361.8,247.7 L362.3,249.7 L362.9,251.6 L363.4,253.5 L363.9,255.4 L364.4,257.4 L364.9,259.3 L365.4,261.2 L365.9,263.2 L366.4,265.1 L366.9,267.1 L367.4,269.0 L367.9,270.9 L368.3,272.9 L368.8,274.8 L369.3,276.8 L369.8,278.7 L370.2,280.6 L370.7,282.6 L371.1,284.5 L371.6,286.5 L372.0,288.4 L372.5,290.4 L372.9,292.3 L373.4,294.3 L373.8,296.2 L374.3,298.2 L374.7,300.1 L375.2,302.1 L375.6,304.0 L376.0,306.0 L376.5,307.9 L376.9,309.9 L377.3,311.8 L377.8,313.8 L378.2,315.7 L378.6,317.7 L379.1,319.6 L379.5,321.6 L379.9,323.5 L380.4,325.5 L380.8,327.4 L381.2,329.4 L381.7,331.3 L382.1,333.3 L382.5,335.2 L383.0,337.2 L383.4,339.1 L383.8,341.1 L384.3,343.0 L384.7,345.0 L385.2,346.9 L385.6,348.9 L386.1,350.8 L386.5,352.8 L386.9,354.7 L387.4,356.7 L387.8,358.6 L388.3,360.5 L388.7,362.5 L389.2,364.4 L389.6,366.4 L390.1,368.3 L390.5,370.3 L391.0,372.2 L391.4,374.1 L391.9,376.1 L392.3,378.0 L392.8,380.0 L393.2,381.9 L393.7,383.9 L394.2,385.8 L394.6,387.8 L395.1,389.7 L395.5,391.7 L396.0,393.6 L396.4,395.5 L396.9,397.5 L397.4,399.4 L397.8,401.4 L398.3,403.3 L398.7,405.3 L399.2,407.2 L399.7,409.2 L400.1,411.1 L400.6,413.1 L401.1,415.0 L401.5,417.0 L402.0,418.9 L402.5,420.9 L403.0,422.8 L403.4,424.8 L403.9,426.7 L404.4,428.7 L404.9,430.6 L405.5,432.5 L406.0,434.5 L406.5,436.4 L407.1,438.3 L407.6,440.2 L408.2,442.1 L408.8,444.0 L409.4,445.9 L410.0,447.8 L410.6,449.7 L411.3,451.6 L412.0,453.5 L412.6,455.4 L413.3,457.2 L414.1,459.1 L414.8,460.9 L415.5,462.8 L416.3,464.6 L417.1,466.4 L417.9,468.3 L418.8,470.1 L419.7,471.9 L420.6,473.6 L421.5,475.4 L422.4,477.2 L423.4,478.9 L424.5,480.6 L425.5,482.3 L426.7,483.9 L427.8,485.5 L429.0,487.1 L430.3,488.6 L431.6,490.1 L433.0,491.5 L434.5,492.9 L436.0,494.3 L437.5,495.5 L439.1,496.8 L440.8,497.9 L442.5,499.0 L444.3,500.1 L446.0,501.1 L447.8,502.1 L449.6,502.9 L451.4,503.8 L453.2,504.6 L455.1,505.3 L456.9,506.0 L458.8,506.7 L460.7,507.3 L462.6,507.9 L464.5,508.5 L466.4,509.0 L468.4,509.6 L470.3,510.1 L472.2,510.5 L474.2,511.0 L476.1,511.5 L478.1,511.9 L480.0,512.4 L482.0,512.8 L483.9,513.2 L485.9,513.6 L487.8,514.0 L489.8,514.4 L491.7,514.8 L493.7,515.2 L495.7,515.6 L497.6,516.0 L499.6,516.4 L501.5,516.8 L503.5,517.2 L505.5,517.5 L507.4,517.9 L509.4,518.3 L511.3,518.7 L513.3,519.1 L515.3,519.5 L517.2,519.9 L519.2,520.3 L521.1,520.7 L523.1,521.1 L525.0,521.5 L527.0,521.9 L528.9,522.4 L530.9,522.8 L532.8,523.3 L534.7,523.7 L536.7,524.2 L538.6,524.7 L540.5,525.2 L542.5,525.7 L544.4,526.3 L546.3,526.8 L548.2,527.3 L550.1,527.9 L552.0,528.5 L553.9,529.1 L555.8,529.7 L557.7,530.3 L559.6,530.9 L561.5,531.5 L563.4,532.1 L565.3,532.8 L567.2,533.4 L569.1,534.1 L570.9,534.8 L572.8,535.4 L574.7,536.1 L576.6,536.8 L578.5,537.5 L580.3,538.2 L582.2,538.9 L584.1,539.6 L585.9,540.3 L587.8,541.1 L589.7,541.8 L591.5,542.5 L593.4,543.3 L595.2,544.0 L597.1,544.8 L599.0,545.5 L600.8,546.3 L602.7,547.0 L604.5,547.8 L606.4,548.5 L608.2,549.3 L610.1,550.1 L611.9,550.8 L613.8,551.6 L615.7,552.4 L617.5,553.1 L619.4,553.9 L621.2,554.6 L623.1,555.4 L624.9,556.2 L626.8,556.9 L628.6,557.7 L630.5,558.4 L632.4,559.2 L634.2,559.9 L636.1,560.7 L637.9,561.4 L639.8,562.2 L641.7,562.9 L643.5,563.7 L645.4,564.4 L647.3,565.1 L649.1,565.8 L651.0,566.5 L652.9,567.2 L654.8,567.9 L656.6,568.6 L658.5,569.3 L660.4,570.0 L662.3,570.7 L664.1,571.4 L666.0,572.1 L667.9,572.7 L669.8,573.4 L671.7,574.1 L673.5,574.7 L675.4,575.4 L677.3,576.1 L679.2,576.7 L681.1,577.4 L683.0,578.0 L684.8,578.7 L686.7,579.4 L688.6,580.0 L690.5,580.7 L692.4,581.4 L694.3,582.0 L696.1,582.7 L698.0,583.4 L699.9,584.0 L701.8,584.7 L703.6,585.4 L705.5,586.1 L707.4,586.8 L709.3,587.5 L711.1,588.1 L713.0,588.8 L714.9,589.6 L716.7,590.3 L718.6,591.0 L720.4,591.7 L722.3,592.4 L724.1,593.2 L726.0,593.9 L727.8,594.7 L729.7,595.4 L731.5,596.2 L733.4,596.9 L735.2,597.7 L737.1,598.5 L738.9,599.3 L740.7,600.1 L742.6,600.9 L744.4,601.7 L746.2,602.5 L748.0,603.3 L749.9,604.1 L751.7,604.9 L753.5,605.7 L755.3,606.5 L757.1,607.4 L759.0,608.2 L760.8,609.0 L762.6,609.9 L764.4,610.7 L766.2,611.6 L768.0,612.4 L769.8,613.3 L771.7,614.1 L773.5,615.0 L775.3,615.8 L777.1,616.7 L778.9,617.5 L780.7,618.4 L782.5,619.2 L784.3,620.1 L786.1,621.0 L787.9,621.8 L789.7,622.7 L791.5,623.5 L793.4,624.4 L795.2,625.3 L797.0,626.1 L798.8,627.0 L800.6,627.8 L802.4,628.7 L804.2,629.5 L806.0,630.4 L807.8,631.2 L809.6,632.1 L811.4,632.9 L813.3,633.8 L815.1,634.6 L816.9,635.5 L818.7,636.3 L820.5,637.1 L822.3,638.0 L824.2,638.8 L826.0,639.6 L827.8,640.4 L829.6,641.2 L831.4,642.1 L833.3,642.9 L835.1,643.7 L836.9,644.5 L838.8,645.3 L840.6,646.1 L842.4,646.8 L844.3,647.6 L846.1,648.4 L847.9,649.2 L849.8,649.9 L851.6,650.7 L853.5,651.5 L855.3,652.2 L857.1,653.0 L859.0,653.7 L860.8,654.5 L862.7,655.2 L864.5,656.0 L866.4,656.7 L868.3,657.5 L870.1,658.2 L872.0,658.9 L873.8,659.6 L875.7,660.4 L877.5,661.1 L879.4,661.8 L881.3,662.5 L883.1,663.2 L885.0,663.9 L886.9,664.6 L888.7,665.3 L890.6,666.0 L892.5,666.7 L894.3,667.4 L896.2,668.1 L898.1,668.8 L899.9,669.5 L901.8,670.1 L903.7,670.8 L905.6,671.5 L907.4,672.2 L909.3,672.8 L911.2,673.5 L913.1,674.1 L915.0,674.8 L916.9,675.5 L918.7,676.1 L920.6,676.8 L922.5,677.4 L924.4,678.1 L926.3,678.7 L928.2,679.4 L930.1,680.0 L931.9,680.6 L933.8,681.3 L935.7,681.9 L937.6,682.5 L939.5,683.2 L941.4,683.8 L943.3,684.4 L945.2,685.0 L947.1,685.7 L949.0,686.3 L950.9,686.9 L952.8,687.5 L954.7,688.1 L956.6,688.8 L958.5,689.4 L960.4,690.0 L962.3,690.6 L964.2,691.2 L966.1,691.8 L968.0,692.4 L969.9,693.0 L971.8,693.6 L973.7,694.2 L975.6,694.8 L977.5,695.4 L979.4,696.0 L981.3,696.6 L983.2,697.2 L985.1,697.8 L987.1,698.3 L989.0,698.9 L990.9,699.5 L992.8,700.1 L994.7,700.7 L996.6,701.3 L998.5,701.9 L1000.4,702.4 L1002.3,703.0 L1004.3,703.6 L1006.2,704.2 L1008.1,704.8 L1010.0,705.3 L1011.9,705.9 L1013.8,706.5 L1015.7,707.1 L1017.6,707.6 L1019.6,708.2 L1021.5,708.8 L1023.4,709.4 L1025.3,709.9 L1027.2,710.5 L1029.1,711.1 L1031.1,711.7 L1033.0,712.2 L1034.9,712.8 L1036.8,713.4 L1038.7,713.9 L1040.6,714.5 L1042.6,715.1 L1044.5,715.7 L1046.4,716.2 L1048.3,716.8 L1050.2,717.4 L1052.1,717.9 L1054.1,718.5 L1056.0,719.1 L1057.9,719.7 L1059.8,720.2 L1061.7,720.8 L1063.6,721.4 L1065.6,721.9 L1067.5,722.5 L1069.4,723.1 L1071.3,723.7 L1073.2,724.2 L1075.1,724.8 L1077.1,725.4 L1079.0,726.0 L1080.9,726.5 L1082.8,727.1 L1084.7,727.7 L1086.6,728.3 L1088.5,728.8 L1090.5,729.4 L1092.4,730.0 L1094.3,730.6 L1096.2,731.2 L1098.1,731.7 L1100.0,732.3 L1101.9,732.9 L1103.9,733.5 L1105.8,734.1 L1107.7,734.7 L1109.6,735.3 L1111.5,735.8 L1113.4,736.4 L1115.3,737.0 L1117.2,737.6 L1119.1,738.2 L1121.0,738.8 L1123.0,739.4 L1124.9,740.0 L1126.8,740.6 L1128.7,741.2 L1130.6,741.8 L1132.5,742.4 L1134.4,743.0 L1136.3,743.6 L1138.2,744.3 L1140.1,744.9 L1142.0,745.5 L1143.9,746.1 L1145.8,746.7 L1147.7,747.3 L1149.6,748.0 L1151.5,748.6 L1153.4,749.2 L1155.3,749.8 L1157.2,750.5 L1159.1,751.1 L1161.0,751.7 L1162.9,752.4 L1164.8,753.0 L1166.7,753.6 L1168.6,754.3 L1170.5,754.9 L1172.4,755.6 L1174.3,756.2 L1176.2,756.9 L1178.0,757.5 L1179.9,758.2 L1181.8,758.8 L1183.7,759.5 L1185.6,760.2 L1187.5,760.8 L1189.4,761.5 L1191.2,762.2 L1193.1,762.8 L1195.0,763.5 L1196.9,764.2 L1198.8,764.9 L1200.7,765.5 L1202.5,766.2 L1204.4,766.9 L1206.3,767.6 L1208.2,768.3 L1210.0,769.0 L1211.9,769.7 L1213.8,770.4 L1215.7,771.1 L1217.5,771.8 L1219.4,772.5 L1221.3,773.2 L1223.1,773.9 L1225.0,774.6 L1226.9,775.3 L1228.7,776.0 L1230.6,776.8 L1232.5,777.5 L1234.3,778.2 L1236.2,778.9 L1238.1,779.7 L1239.9,780.4 L1241.8,781.1 L1243.6,781.9 L1245.5,782.6 L1247.4,783.3 L1249.2,784.1 L1251.1,784.8 L1252.9,785.6 L1254.8,786.3 L1256.6,787.1 L1258.5,787.8 L1260.3,788.6 L1262.2,789.3 L1264.0,790.1 L1265.9,790.9 L1267.7,791.6 L1269.6,792.4 L1271.4,793.2 L1273.3,793.9 L1275.1,794.7 L1276.9,795.5 L1278.8,796.3 L1280.6,797.1 L1282.5,797.8 L1284.3,798.6 L1286.1,799.4 L1288.0,800.2 L1289.8,801.0 L1291.6,801.8 L1293.5,802.6 L1295.3,803.4 L1297.1,804.2 L1299.0,805.0 L1300.8,805.8 L1302.6,806.6 L1304.4,807.4 L1306.3,808.2 L1308.1,809.1 L1309.9,809.9 L1311.7,810.7 L1313.6,811.5 L1315.4,812.3 L1317.2,813.2 L1319.0,814.0 L1320.8,814.8 L1322.6,815.7 L1324.5,816.5 L1326.3,817.3 L1328.1,818.2 L1329.9,819.0 L1331.7,819.9 L1333.5,820.7 L1335.3,821.6 L1337.1,822.4 L1338.9,823.3 L1340.7,824.1 L1342.5,825.0 L1344.4,825.8 L1346.2,826.7 L1348.0,827.6 L1349.8,828.4 L1351.6,829.3 L1353.3,830.2 L1355.1,831.1 L1356.9,831.9 L1358.7,832.8 L1360.5,833.7 L1362.3,834.6 L1364.1,835.5 L1365.9,836.4 L1367.7,837.3 L1369.5,838.1 L1371.3,839.0 L1373.0,839.9 L1374.8,840.8 L1376.6,841.7 L1378.4,842.6 L1380.2,843.6 L1381.9,844.5 L1383.7,845.4 L1385.5,846.3 L1387.3,847.2 L1389.0,848.1 L1390.8,849.0 L1392.6,850.0 L1394.4,850.9 L1396.1,851.8 L1397.9,852.7 L1399.7,853.7 L1401.4,854.6 L1403.2,855.5 L1405.0,856.5 L1406.7,857.4 L1408.5,858.4 L1410.2,859.3 L1412.0,860.3 L1413.8,861.2 L1415.5,862.2 L1417.3,863.1 L1419.0,864.1 L1420.8,865.0 L1422.5,866.0 L1424.3,867.0 L1426.0,867.9 L1427.8,868.9 L1429.5,869.9 L1431.3,870.8 L1433.0,871.8 L1434.7,872.8 L1436.5,873.8 L1438.2,874.7 L1440.0,875.7 L1441.7,876.7 L1443.4,877.7 L1445.2,878.7 L1446.9,879.7 L1448.6,880.7 L1450.4,881.7 L1452.1,882.7 L1453.8,883.7 L1455.6,884.7 L1457.3,885.7 L1459.0,886.7 L1460.7,887.7 L1462.4,888.7 L1464.2,889.7 L1465.9,890.7 L1467.6,891.7 L1469.3,892.8 L1471.0,893.8 L1472.7,894.8 L1474.5,895.8 L1476.2,896.9 L1477.9,897.9 L1479.6,898.9 L1481.3,900.0 L1483.0,901.0 L1484.7,902.0 L1486.4,903.1 L1488.1,904.1 L1489.8,905.2 L1491.5,906.2 L1493.2,907.3 L1494.9,908.3 L1496.6,909.4 L1498.3,910.5 L1500.0,911.5 L1501.7,912.6 L1503.3,913.6 L1505.0,914.7 L1506.7,915.8 L1508.4,916.8 L1510.1,917.9 L1511.8,919.0 L1513.4,920.1 L1515.1,921.2 L1516.8,922.2 L1518.5,923.3 L1520.2,924.4 L1521.8,925.5 L1523.5,926.6 L1525.2,927.7 L1526.8,928.8 L1528.5,929.9 L1530.2,931.0 L1531.8,932.1 L1533.5,933.2 L1535.2,934.3 L1536.8,935.4 L1538.5,936.5 L1540.2,937.6 L1541.8,938.7 L1543.5,939.8 L1545.1,940.9 L1546.8,942.0 L1548.4,943.2 L1550.1,944.3 L1551.7,945.4 L1553.4,946.5 L1555.0,947.6 L1556.7,948.8 L1558.3,949.9 L1560.0,951.0 L1561.6,952.2 L1563.3,953.3 L1564.9,954.4 L1566.6,955.6 L1568.2,956.7 L1569.9,957.8 L1571.5,959.0 L1573.1,960.1 L1574.8,961.3 L1576.4,962.4 L1578.0,963.5 L1579.7,964.7 L1581.3,965.8 L1583.0,967.0 L1584.6,968.1 L1586.2,969.3 L1587.9,970.4 L1589.5,971.6 L1591.1,972.7 L1592.7,973.9 L1594.4,975.1 L1596.0,976.2 L1597.6,977.4 L1599.2,978.5 L1600.9,979.7 L1602.5,980.9 L1604.1,982.0 L1605.7,983.2 L1607.4,984.4 L1609.0,985.5 L1610.6,986.7 L1612.2,987.9 L1613.9,989.0 L1615.5,990.2 L1617.1,991.4 L1618.7,992.6 L1620.3,993.7 L1621.9,994.9 L1623.6,996.1 L1625.2,997.3 L1626.8,998.4 L1628.4,999.6 L1630.0,1000.8 L1631.6,1002.0 L1633.3,1003.2 L1634.9,1004.3 L1636.5,1005.5 L1638.1,1006.7 L1639.7,1007.9 L1641.3,1009.1 L1642.9,1010.2 L1644.5,1011.4 L1646.1,1012.6 L1647.8,1013.8 L1649.4,1015.0 L1651.0,1016.2 L1652.6,1017.4 L1654.2,1018.6 L1655.8,1019.7 L1657.4,1020.9 L1659.0,1022.1 L1660.6,1023.3 L1662.2,1024.5 L1663.8,1025.7 L1665.4,1026.9 L1667.1,1028.1 L1668.7,1029.3 L1670.3,1030.5 L1671.9,1031.7 L1673.5,1032.8 L1675.1,1034.0 L1676.7,1035.2 L1678.3,1036.4 L1679.9,1037.6 L1681.5,1038.8 L1683.1,1040.0 L1684.7,1041.2 L1686.3,1042.4 L1687.9,1043.6 L1689.5,1044.8 L1691.1,1046.0 L1692.7,1047.2 L1694.3,1048.4 L1695.9,1049.6 L1697.5,1050.7 L1699.2,1051.9 L1700.8,1053.1 L1702.4,1054.3 L1704.0,1055.5 L1705.6,1056.7 L1707.2,1057.9 L1708.8,1059.1 L1710.4,1060.3 L1712.0,1061.5 L1713.6,1062.7 L1715.2,1063.9 L1716.8,1065.1 L1718.4,1066.3 L1720.0,1067.4 L1721.6,1068.6 L1723.2,1069.8 L1724.8,1071.0 L1726.4,1072.2 L1728.1,1073.4 L1729.7,1074.6 L1731.3,1075.8 L1732.9,1077.0 L1734.5,1078.2 L1736.1,1079.3 L1737.7,1080.5 L1739.3,1081.7 L1740.9,1082.9 L1742.5,1084.1 L1744.1,1085.3 L1745.7,1086.5 L1747.4,1087.6 L1749.0,1088.8 L1750.6,1090.0 L1752.2,1091.2 L1753.8,1092.4 L1755.4,1093.5 L1757.0,1094.7 L1758.6,1095.9 L1760.3,1097.1 L1761.9,1098.3 L1763.5,1099.4 L1765.1,1100.6 L1766.7,1101.8 L1768.3,1103.0 L1769.9,1104.1 L1771.6,1105.3 L1773.2,1106.5 L1774.8,1107.7 L1776.4,1108.8 L1778.0,1110.0 L1779.7,1111.2 L1781.3,1112.4 L1782.9,1113.5 L1784.5,1114.7 L1786.1,1115.9 L1787.7,1117.0 L1789.4,1118.2 L1791.0,1119.4 L1792.6,1120.5 L1794.2,1121.7 L1795.9,1122.9 L1797.5,1124.0 L1799.1,1125.2 L1800.7,1126.4 L1802.3,1127.5 L1804.0,1128.7 L1805.6,1129.8 L1807.2,1131.0 L1808.8,1132.2 L1810.5,1133.3 L1812.1,1134.5 L1813.7,1135.6 L1815.3,1136.8 L1817.0,1138.0 L1818.6,1139.1 L1820.2,1140.3 L1821.8,1141.4 L1823.5,1142.6 L1825.1,1143.8 L1826.7,1144.9 L1828.4,1146.1 L1830.0,1147.2 L1831.6,1148.4 L1833.2,1149.5 L1834.9,1150.7 L1836.5,1151.8 L1838.1,1153.0 L1839.8,1154.1 L1841.4,1155.3 L1843.0,1156.4 L1844.7,1157.6 L1846.3,1158.7 L1847.9,1159.9 L1849.6,1161.0 L1851.2,1162.2 L1852.8,1163.3 L1854.5,1164.5 L1856.1,1165.6 L1857.7,1166.8 L1859.4,1167.9 L1861.0,1169.1 L1862.6,1170.2 L1864.3,1171.4 L1865.9,1172.5 L1867.5,1173.7 L1869.2,1174.8 L1870.8,1175.9 L1872.4,1177.1 L1874.1,1178.2 L1875.7,1179.4 L1877.4,1180.5 L1879.0,1181.7 L1880.6,1182.8 L1882.3,1183.9 L1883.9,1185.1 L1885.5,1186.2 L1887.2,1187.4 L1888.8,1188.5 L1890.5,1189.6 L1892.1,1190.8 L1893.7,1191.9 L1895.4,1193.1 L1897.0,1194.2 L1898.7,1195.3 L1900.3,1196.5 L1902.0,1197.6 L1903.6,1198.7 L1905.2,1199.9 L1906.9,1201.0 L1908.5,1202.1 L1910.2,1203.3 L1911.8,1204.4 L1913.4,1205.5 L1915.1,1206.7 L1916.7,1207.8 L1918.4,1208.9 L1920.0,1210.1 L1921.7,1211.2 L1923.3,1212.3 L1925.0,1213.5 L1926.6,1214.6 L1928.2,1215.7 L1929.9,1216.9 L1931.5,1218.0 L1933.2,1219.1 L1934.8,1220.3 L1936.5,1221.4 L1938.1,1222.5 L1939.8,1223.7 L1941.4,1224.8 L1943.1,1225.9 L1944.7,1227.0 L1946.4,1228.2 L1948.0,1229.3 L1949.7,1230.4 L1951.3,1231.6 L1952.9,1232.7 L1954.6,1233.8 L1956.2,1234.9 L1957.9,1236.1 L1959.5,1237.2 L1961.2,1238.3 L1962.8,1239.4 L1964.5,1240.6 L1966.1,1241.7 L1967.8,1242.8 L1969.5,1243.9 L1971.1,1245.1 L1972.8,1246.2 L1974.4,1247.3 L1976.1,1248.4 L1977.7,1249.5 L1979.4,1250.7 L1981.0,1251.8 L1982.7,1252.9 L1984.3,1254.0 L1986.0,1255.1 L1987.7,1256.2 L1989.3,1257.4 L1991.0,1258.5 L1992.6,1259.6 L1994.3,1260.7 L1996.0,1261.8 L1997.6,1262.9 L1999.3,1264.0 L2000.9,1265.1 L2002.6,1266.2 L2004.3,1267.3 L2005.9,1268.4 L2007.6,1269.5 L2009.3,1270.6 L2010.9,1271.7 L2012.6,1272.8 L2014.3,1273.9 L2016.0,1275.0 L2017.6,1276.1 L2019.3,1277.2 L2021.0,1278.3 L2022.6,1279.4 L2024.3,1280.5 L2026.0,1281.6 L2027.7,1282.6 L2029.4,1283.7 L2031.0,1284.8 L2032.7,1285.9 L2034.4,1287.0 L2036.1,1288.0 L2037.8,1289.1 L2039.5,1290.2 L2041.1,1291.3 L2042.8,1292.3 L2044.5,1293.4 L2046.2,1294.5 L2047.9,1295.5 L2049.6,1296.6 L2051.3,1297.7 L2053.0,1298.7 L2054.7,1299.8 L2056.4,1300.8 L2058.1,1301.9 L2059.8,1302.9 L2061.5,1304.0 L2063.2,1305.0 L2064.9,1306.1 L2066.6,1307.1 L2068.3,1308.1 L2070.0,1309.2 L2071.7,1310.2 L2073.5,1311.2 L2075.2,1312.3 L2076.9,1313.3 L2078.6,1314.3 L2080.3,1315.3 L2082.0,1316.4 L2083.8,1317.4 L2085.5,1318.4 L2087.2,1319.4 L2089.0,1320.4 L2090.7,1321.4 L2092.4,1322.4 L2094.1,1323.4 L2095.9,1324.4 L2097.6,1325.4 L2099.4,1326.4 L2101.1,1327.4 L2102.8,1328.4 L2104.6,1329.4 L2106.3,1330.4 L2108.1,1331.3 L2109.8,1332.3 L2111.6,1333.3 L2113.3,1334.3 L2115.1,1335.2 L2116.8,1336.2 L2118.6,1337.2 L2120.3,1338.2 L2122.1,1339.1 L2123.8,1340.1 L2125.6,1341.1 L2127.3,1342.1 L2129.1,1343.1 L2130.8,1344.1 L2132.5,1345.1 L2134.2,1346.1 L2136.0,1347.1 L2137.7,1348.1 L2139.4,1349.1 L2141.1,1350.2 L2142.8,1351.2 L2144.4,1352.3 L2146.1,1353.4 L2147.8,1354.4 L2149.4,1355.5 L2151.1,1356.6 L2152.7,1357.7 L2154.3,1358.9 L2156.0,1360.0 L2157.6,1361.2 L2159.2,1362.4 L2160.7,1363.6 L2162.3,1364.8 L2163.8,1366.1 L2165.2,1367.4 L2166.5,1368.9 L2167.7,1370.5 L2168.8,1372.1 L2169.7,1374.0 L2170.5,1376.0" stroke="#00f"/>
<path d="M338.5,162.5 L340.5,162.6 L342.5,162.8 L344.5,163.0 L346.4,163.3 L348.4,163.6 L350.3,163.9 L352.3,164.3 L354.2,164.7 L356.2,165.1 L358.1,165.6 L360.0,166.1 L362.0,166.6 L363.9,167.1 L365.8,167.7 L367.8,168.2 L369.7,168.8 L371.6,169.3 L373.5,169.9 L375.5,170.4 L377.4,171.0 L379.3,171.5 L381.2,172.1 L383.2,172.6 L385.1,173.1 L387.0,173.6 L389.0,174.1 L390.9,174.6 L392.8,175.1 L394.8,175.6 L396.7,176.1 L398.7,176.6 L400.6,177.1 L402.6,177.5 L404.5,178.0 L406.5,178.4 L408.4,178.8 L410.4,179.3 L412.3,179.7 L414.3,180.1 L416.2,180.5 L418.2,180.9 L420.2,181.2 L422.1,181.6 L424.1,182.0 L426.1,182.3 L428.0,182.6 L430.0,182.9 L432.0,183.2 L433.9,183.5 L435.9,183.8 L437.9,184.1 L439.9,184.4 L441.9,184.6 L443.8,184.9 L445.8,185.1 L447.8,185.4 L449.8,185.6 L451.8,185.8 L453.8,186.0 L455.8,186.2 L457.8,186.4 L459.7,186.6 L461.7,186.8 L463.7,187.0 L465.7,187.2 L467.7,187.4 L469.7,187.6 L471.7,187.7 L473.7,187.9 L475.7,188.1 L477.7,188.3 L479.7,188.4 L481.7,188.6 L483.7,188.8 L485.7,188.9 L487.7,189.1 L489.7,189.3 L491.7,189.4 L493.7,189.6 L495.7,189.8 L497.7,190.0 L499.6,190.1 L501.6,190.3 L503.6,190.5 L505.6,190.7 L507.6,190.9 L509.6,191.1 L511.6,191.3 L513.6,191.5 L515.6,191.7 L517.6,191.9 L519.6,192.1 L521.6,192.3 L523.5,192.5 L525.5,192.7 L527.5,192.9 L529.5,193.2 L531.5,193.4 L533.5,193.6 L535.5,193.8 L537.4,194.1 L539.4,194.3 L541.4,194.5 L543.4,194.8 L545.4,195.0 L547.4,195.2 L549.3,195.5 L551.3,195.7 L553.3,196.0 L555.3,196.2 L557.3,196.5 L559.3,196.7 L561.2,197.0 L563.2,197.2 L565.2,197.5 L567.2,197.8 L569.1,198.0 L571.1,198.3 L573.1,198.6 L575.1,198.8 L577.1,199.1 L579.0,199.4 L581.0,199.6 L583.0,199.9 L585.0,200.2 L586.9,200.5 L588.9,200.7 L590.9,201.0 L592.9,201.3 L594.9,201.6 L596.8,201.9 L598.8,202.2 L600.8,202.4 L602.8,202.7 L604.7,203.0 L606.7,203.3 L608.7,203.6 L610.7,203.9 L612.6,204.2 L614.6,204.5 L616.6,204.8 L618.5,205.1 L620.5,205.4 L622.5,205.7 L624.5,206.0 L626.4,206.3 L628.4,206.6 L630.4,206.9 L632.4,207.2 L634.3,207.5 L636.3,207.8 L638.3,208.1 L640.3,208.4 L642.2,208.7 L644.2,209.0 L646.2,209.3 L648.1,209.6 L650.1,209.9 L652.1,210.2 L654.1,210.5 L656.0,210.8 L658.0,211.1 L660.0,211.4 L662.0,211.7 L663.9,212.0 L665.9,212.3 L667.9,212.6 L669.9,212.9 L671.8,213.2 L673.8,213.5 L675.8,213.8 L677.8,214.1 L679.7,214.4 L681.7,214.7 L683.7,215.0 L685.6,215.3 L687.6,215.6 L689.6,215.9 L691.6,216.2 L693.5,216.6 L695.5,216.9 L697.5,217.2 L699.5,217.5 L701.4,217.8 L703.4,218.1 L705.4,218.4 L707.4,218.7 L709.3,219.0 L711.3,219.3 L713.3,219.6 L715.3,219.9 L717.2,220.2 L719.2,220.5 L721.2,220.8 L723.2,221.1 L725.1,221.4 L727.1,221.7 L729.1,222.0 L731.1,222.3 L733.0,222.6 L735.0,222.9 L737.0,223.2 L739.0,223.5 L740.9,223.8 L742.9,224.1 L744.9,224.4 L746.9,224.7 L748.8,225.0 L750.8,225.3 L752.8,225.6 L754.8,226.0 L756.7,226.3 L758.7,226.6 L760.7,226.9 L762.7,227.2 L764.6,227.5 L766.6,227.8 L768.6,228.1 L770.6,228.4 L772.6,228.7 L774.5,229.0 L776.5,229.3 L778.5,229.6 L780.5,229.9 L782.4,230.2 L784.4,230.5 L786.4,230.8 L788.4,231.1 L790.3,231.5 L792.3,231.8 L794.3,232.1 L796.3,232.4 L798.2,232.7 L800.2,233.0 L802.2,233.3 L804.2,233.6 L806.1,233.9 L808.1,234.2 L810.1,234.5 L812.1,234.8 L814.0,235.2 L816.0,235.5 L818.0,235.8 L820.0,236.1 L821.9,236.4 L823.9,236.7 L825.9,237.0 L827.9,237.3 L829.8,237.6 L831.8,238.0 L833.8,238.3 L835.8,238.6 L837.7,238.9 L839.7,239.2 L841.7,239.5 L843.7,239.8 L845.6,240.2 L847.6,240.5 L849.6,240.8 L851.6,241.1 L853.5,241.4 L855.5,241.7 L857.5,242.0 L859.5,242.4 L861.4,242.7 L863.4,243.0 L865.4,243.3 L867.4,243.6 L869.3,244.0 L871.3,244.3 L873.3,244.6 L875.3,244.9 L877.2,245.2 L879.2,245.6 L881.2,245.9 L883.2,246.2 L885.1,246.5 L887.1,246.8 L889.1,247.2 L891.0,247.5 L893.0,247.8 L895.0,248.1 L897.0,248.5 L898.9,248.8 L900.9,249.1 L902.9,249.4 L904.9,249.8 L906.8,250.1 L908.8,250.4 L910.8,250.7 L912.8,251.1 L914.7,251.4 L916.7,251.7 L918.7,252.1 L920.6,252.4 L922.6,252.7 L924.6,253.1 L926.6,253.4 L928.5,253.7 L930.5,254.0 L932.5,254.4 L934.4,254.7 L936.4,255.1 L938.4,255.4 L940.4,255.7 L942.3,256.1 L944.3,256.4 L946.3,256.7 L948.2,257.1 L950.2,257.4 L952.2,257.7 L954.2,258.1 L956.1,258.4 L958.1,258.8 L960.1,259.1 L962.0,259.4 L964.0,259.8 L966.0,260.1 L967.9,260.5 L969.9,260.8 L971.9,261.2 L973.9,261.5 L975.8,261.9 L977.8,262.2 L979.8,262.6 L981.7,262.9 L983.7,263.2 L985.7,263.6 L987.6,263.9 L989.6,264.3 L991.6,264.6 L993.5,265.0 L995.5,265.4 L997.5,265.7 L999.4,266.1 L1001.4,266.4 L1003.4,266.8 L1005.3,267.1 L1007.3,267.5 L1009.3,267.8 L1011.2,268.2 L1013.2,268.6 L1015.2,268.9 L1017.1,269.3 L1019.1,269.6 L1021.1,270.0 L1023.0,270.4 L1025.0,270.7 L1027.0,271.1 L1028.9,271.5 L1030.9,271.8 L1032.9,272.2 L1034.8,272.6 L1036.8,272.9 L1038.8,273.3 L1040.7,273.7 L1042.7,274.0 L1044.7,274.4 L1046.6,274.8 L1048.6,275.1 L1050.6,275.5 L1052.5,275.9 L1054.5,276.3 L1056.4,276.6 L1058.4,277.0 L1060.4,277.4 L1062.3,277.8 L1064.3,278.2 L1066.3,278.5 L1068.2,278.9 L1070.2,279.3 L1072.1,279.7 L1074.1,280.1 L1076.1,280.4 L1078.0,280.8 L1080.0,281.2 L1081.9,281.6 L1083.9,282.0 L1085.9,282.4 L1087.8,282.8 L1089.8,283.2 L1091.7,283.5 L1093.7,283.9 L1095.7,284.3 L1097.6,284.7 L1099.6,285.1 L1101.5,285.5 L1103.5,285.9 L1105.5,286.3 L1107.4,286.7 L1109.4,287.1 L1111.3,287.5 L1113.3,287.9 L1115.2,288.3 L1117.2,288.7 L1119.2,289.1 L1121.1,289.5 L1123.1,289.9 L1125.0,290.3 L1127.0,290.7 L1128.9,291.2 L1130.9,291.6 L1132.8,292.0 L1134.8,292.4 L1136.8,292.8 L1138.7,293.2 L1140.7,293.6 L1142.6,294.0 L1144.6,294.5 L1146.5,294.9 L1148.5,295.3 L1150.4,295.7 L1152.4,296.1 L1154.3,296.6 L1156.3,297.0 L1158.2,297.4 L1160.2,297.8 L1162.1,298.3 L1164.1,298.7 L1166.0,299.1 L1168.0,299.6 L1169.9,300.0 L1171.9,300.4 L1173.8,300.8 L1175.8,301.3 L1177.7,301.7 L1179.7,302.2 L1181.6,302.6 L1183.6,303.0 L1185.5,303.5 L1187.5,303.9 L1189.4,304.4 L1191.4,304.8 L1193.3,305.2 L1195.3,305.7 L1197.2,306.1 L1199.2,306.6 L1201.1,307.0 L1203.1,307.5 L1205.0,307.9 L1207.0,308.4 L1208.9,308.8 L1210.9,309.3 L1212.8,309.7 L1214.7,310.2 L1216.7,310.7 L1218.6,311.1 L1220.6,311.6 L1222.5,312.0 L1224.5,312.5 L1226.4,313.0 L1228.3,313.4 L1230.3,313.9 L1232.2,314.4 L1234.2,314.8 L1236.1,315.3 L1238.1,315.8 L1240.0,316.3 L1241.9,316.7 L1243.9,317.2 L1245.8,317.7 L1247.8,318.2 L1249.7,318.6 L1251.6,319.1 L1253.6,319.6 L1255.5,320.1 L1257.4,320.6 L1259.4,321.0 L1261.3,321.5 L1263.3,322.0 L1265.2,322.5 L1267.1,323.0 L1269.1,323.5 L1271.0,324.0 L1272.9,324.5 L1274.9,325.0 L1276.8,325.5 L1278.7,326.0 L1280.7,326.5 L1282.6,327.0 L1284.5,327.5 L1286.5,328.0 L1288.4,328.5 L1290.3,329.0 L1292.3,329.5 L1294.2,330.0 L1296.1,330.5 L1298.1,331.0 L1300.0,331.5 L1301.9,332.0 L1303.9,332.6 L1305.8,333.1 L1307.7,333.6 L1309.7,334.1 L1311.6,334.6 L1313.5,335.1 L1315.4,335.7 L1317.4,336.2 L1319.3,336.7 L1321.2,337.2 L1323.2,337.7 L1325.1,338.3 L1327.0,338.8 L1328.9,339.3 L1330.9,339.8 L1332.8,340.4 L1334.7,340.9 L1336.7,341.4 L1338.6,342.0 L1340.5,342.5 L1342.4,343.0 L1344.4,343.5 L1346.3,344.1 L1348.2,344.6 L1350.1,345.1 L1352.1,345.7 L1354.0,346.2 L1355.9,346.8 L1357.8,347.3 L1359.8,347.8 L1361.7,348.4 L1363.6,348.9 L1365.5,349.4 L1367.5,350.0 L1369.4,350.5 L1371.3,351.1 L1373.2,351.6 L1375.2,352.1 L1377.1,352.7 L1379.0,353.2 L1380.9,353.8 L1382.9,354.3 L1384.8,354.9 L1386.7,355.4 L1388.6,356.0 L1390.6,356.5 L1392.5,357.0 L1394.4,357.6 L1396.3,358.1 L1398.3,358.7 L1400.2,359.2 L1402.1,359.8 L1404.0,360.3 L1405.9,360.9 L1407.9,361.4 L1409.8,362.0 L1411.7,362.5 L1413.6,363.1 L1415.6,363.6 L1417.5,364.2 L1419.4,364.7 L1421.3,365.3 L1423.2,365.8 L1425.2,366.4 L1427.1,366.9 L1429.0,367.5 L1430.9,368.0 L1432.9,368.6 L1434.8,369.1 L1436.7,369.7 L1438.6,370.2 L1440.5,370.8 L1442.5,371.3 L1444.4,371.9 L1446.3,372.4 L1448.2,373.0 L1450.1,373.5 L1452.1,374.1 L1454.0,374.6 L1455.9,375.2 L1457.8,375.7 L1459.8,376.3 L1461.7,376.8 L1463.6,377.4 L1465.5,377.9 L1467.4,378.5 L1469.4,379.0 L1471.3,379.6 L1473.2,380.1 L1475.1,380.7 L1477.1,381.2 L1479.0,381.8 L1480.9,382.3 L1482.8,382.9 L1484.7,383.4 L1486.7,384.0 L1488.6,384.5 L1490.5,385.1 L1492.4,385.6 L1494.4,386.2 L1496.3,386.7 L1498.2,387.3 L1500.1,387.8 L1502.1,388.4 L1504.0,388.9 L1505.9,389.5 L1507.8,390.0 L1509.7,390.5 L1511.7,391.1 L1513.6,391.6 L1515.5,392.2 L1517.4,392.7 L1519.4,393.3 L1521.3,393.8 L1523.2,394.3 L1525.1,394.9 L1527.1,395.4 L1529.0,396.0 L1530.9,396.5 L1532.8,397.0 L1534.8,397.6 L1536.7,398.1 L1538.6,398.6 L1540.5,399.2 L1542.5,399.7 L1544.4,400.2 L1546.3,400.8 L1548.2,401.3 L1550.2,401.8 L1552.1,402.4 L1554.0,402.9 L1556.0,403.4 L1557.9,404.0 L1559.8,404.5 L1561.7,405.0 L1563.7,405.5 L1565.6,406.1 L1567.5,406.6 L1569.5,407.1 L1571.4,407.6 L1573.3,408.2 L1575.2,408.7 L1577.2,409.2 L1579.1,409.7 L1581.0,410.2 L1583.0,410.7 L1584.9,411.3 L1586.8,411.8 L1588.7,412.3 L1590.7,412.8 L1592.6,413.3 L1594.5,413.8 L1596.5,414.3 L1598.4,414.8 L1600.3,415.4 L1602.3,415.9 L1604.2,416.4 L1606.1,416.9 L1608.1,417.4 L1610.0,417.9 L1611.9,418.4 L1613.9,418.9 L1615.8,419.4 L1617.7,419.9 L1619.7,420.4 L1621.6,420.9 L1623.6,421.3 L1625.5,421.8 L1627.4,422.3 L1629.4,422.8 L1631.3,423.3 L1633.2,423.8 L1635.2,424.3 L1637.1,424.8 L1639.0,425.3 L1641.0,425.7 L1642.9,426.2 L1644.9,426.7 L1646.8,427.2 L1648.7,427.7 L1650.7,428.1 L1652.6,428.6 L1654.6,429.1 L1656.5,429.5 L1658.4,430.0 L1660.4,430.5 L1662.3,431.0 L1664.3,431.4 L1666.2,431.9 L1668.1,432.4 L1670.1,432.8 L1672.0,433.3 L1674.0,433.7 L1675.9,434.2 L1677.9,434.7 L1679.8,435.1 L1681.8,435.6 L1683.7,436.0 L1685.6,436.5 L1687.6,436.9 L1689.5,437.4 L1691.5,437.8 L1693.4,438.3 L1695.4,438.7 L1697.3,439.2 L1699.3,439.6 L1701.2,440.1 L1703.2,440.5 L1705.1,440.9 L1707.1,441.4 L1709.0,441.8 L1711.0,442.2 L1712.9,442.7 L1714.8,443.1 L1716.8,443.5 L1718.7,444.0 L1720.7,444.4 L1722.6,444.8 L1724.6,445.2 L1726.6,445.7 L1728.5,446.1 L1730.5,446.5 L1732.4,446.9 L1734.4,447.3 L1736.3,447.8 L1738.3,448.2 L1740.2,448.6 L1742.2,449.0 L1744.1,449.4 L1746.1,449.8 L1748.0,450.2 L1750.0,450.6 L1751.9,451.0 L1753.9,451.4 L1755.9,451.8 L1757.8,452.2 L1759.8,452.6 L1761.7,453.0 L1763.7,453.4 L1765.6,453.8 L1767.6,454.2 L1769.6,454.6 L1771.5,455.0 L1773.5,455.4 L1775.4,455.7 L1777.4,456.1 L1779.3,456.5 L1781.3,456.9 L1783.3,457.3 L1785.2,457.6 L1787.2,458.0 L1789.2,458.4 L1791.1,458.8 L1793.1,459.1 L1795.0,459.5 L1797.0,459.9 L1799.0,460.2 L1800.9,460.6 L1802.9,460.9 L1804.9,461.3 L1806.8,461.7 L1808.8,462.0 L1810.7,462.4 L1812.7,462.7 L1814.7,463.1 L1816.6,463.4 L1818.6,463.8 L1820.6,464.1 L1822.5,464.5 L1824.5,464.8 L1826.5,465.2 L1828.4,465.5 L1830.4,465.8 L1832.4,466.2 L1834.3,466.5 L1836.3,466.8 L1838.3,467.2 L1840.3,467.5 L1842.2,467.8 L1844.2,468.1 L1846.2,468.5 L1848.1,468.8 L1850.1,469.1 L1852.1,469.4 L1854.1,469.7 L1856.0,470.0 L1858.0,470.4 L1860.0,470.7 L1861.9,471.0 L1863.9,471.3 L1865.9,471.6 L1867.9,471.9 L1869.8,472.2 L1871.8,472.5 L1873.8,472.8 L1875.8,473.1 L1877.7,473.4 L1879.7,473.7 L1881.7,474.0 L1883.7,474.2 L1885.7,474.5 L1887.6,474.8 L1889.6,475.1 L1891.6,475.4 L1893.6,475.7 L1895.6,475.9 L1897.5,476.2 L1899.5,476.5 L1901.5,476.8 L1903.5,477.0 L1905.5,477.3 L1907.4,477.6 L1909.4,477.8 L1911.4,478.1 L1913.4,478.4 L1915.4,478.6 L1917.3,478.9 L1919.3,479.2 L1921.3,479.4 L1923.3,479.7 L1925.3,479.9 L1927.3,480.2 L1929.2,480.4 L1931.2,480.7 L1933.2,480.9 L1935.2,481.2 L1937.2,481.4 L1939.2,481.7 L1941.1,481.9 L1943.1,482.2 L1945.1,482.4 L1947.1,482.7 L1949.1,482.9 L1951.1,483.2 L1953.1,483.4 L1955.0,483.7 L1957.0,483.9 L1959.0,484.1 L1961.0,484.4 L1963.0,484.6 L1965.0,484.9 L1967.0,485.1 L1968.9,485.3 L1970.9,485.6 L1972.9,485.8 L1974.9,486.0 L1976.9,486.3 L1978.9,486.5 L1980.9,486.8 L1982.8,487.0 L1984.8,487.2 L1986.8,487.5 L1988.8,487.7 L1990.8,487.9 L1992.8,488.2 L1994.8,488.4 L1996.8,488.6 L1998.7,488.9 L2000.7,489.1 L2002.7,489.3 L2004.7,489.6 L2006.7,489.8 L2008.7,490.0 L2010.7,490.3 L2012.6,490.5 L2014.6,490.7 L2016.6,491.0 L2018.6,491.2 L2020.6,491.4 L2022.6,491.7 L2024.6,491.9 L2026.6,492.1 L2028.5,492.4 L2030.5,492.6 L2032.5,492.8 L2034.5,493.1 L2036.5,493.3 L2038.5,493.6 L2040.5,493.8 L2042.4,494.0 L2044.4,494.3 L2046.4,494.5 L2048.4,494.7 L2050.4,495.0 L2052.4,495.2 L2054.3,495.5 L2056.3,495.7 L2058.3,496.0 L2060.3,496.2 L2062.3,496.4 L2064.3,496.7 L2066.3,496.9 L2068.2,497.2 L2070.2,497.4 L2072.2,497.7 L2074.2,497.9 L2076.2,498.2 L2078.1,498.4 L2080.1,498.7 L2082.1,499.0 L2084.1,499.2 L2086.1,499.5 L2088.1,499.7 L2090.0,500.0 L2092.0,500.2 L2094.0,500.5 L2096.0,500.8 L2098.0,501.0 L2099.9,501.3 L2101.9,501.6 L2103.9,501.8 L2105.9,502.1 L2107.9,502.4 L2109.8,502.6 L2111.8,502.9 L2113.8,503.2 L2115.8,503.5 L2117.7,503.8 L2119.7,504.0 L2121.7,504.3 L2123.7,504.6 L2125.6,504.9 L2127.6,505.2 L2129.6,505.5 L2131.6,505.7 L2133.5,506.0 L2135.5,506.3 L2137.5,506.6 L2139.5,506.9 L2141.4,507.2 L2143.4,507.5 L2145.4,507.8 L2147.4,508.1 L2149.3,508.4 L2151.3,508.7 L2153.3,509.0 L2155.3,509.3 L2157.2,509.6 L2159.2,509.9 L2161.2,510.2 L2163.1,510.6 L2165.1,511.0 L2167.0,511.7 L2168.8,512.5 L2170.5,513.6" stroke="#f0f"/>
</g>
<g fill="#000">
<text transform="translate(1303.30,1805.00) scale(1.0000,1.0180)" font-size="82.10" text-anchor="middle">Temperature (&#176;C)</text>
<text transform="translate(86.20,764.60) rotate(-90) scale(1.0000,1.0440)" font-size="80.90" text-anchor="middle">Weight %</text>
<text transform="translate(1885.00,413.80) scale(1.0000,1.0250)" font-size="81.40">GNPs</text>
<text transform="translate(1861.00,780.60) scale(1.0000,1.0300)" font-size="80.80">DD+DP60</text>
<text transform="translate(1993.00,1129.60) scale(1.0000,1.0300)" font-size="80.80">DD+DP45</text>
<text transform="translate(1647.50,1395.20) scale(1.0000,1.0350)" font-size="80.50">DD+DP30</text>
</g>
</svg>
</body></html>
